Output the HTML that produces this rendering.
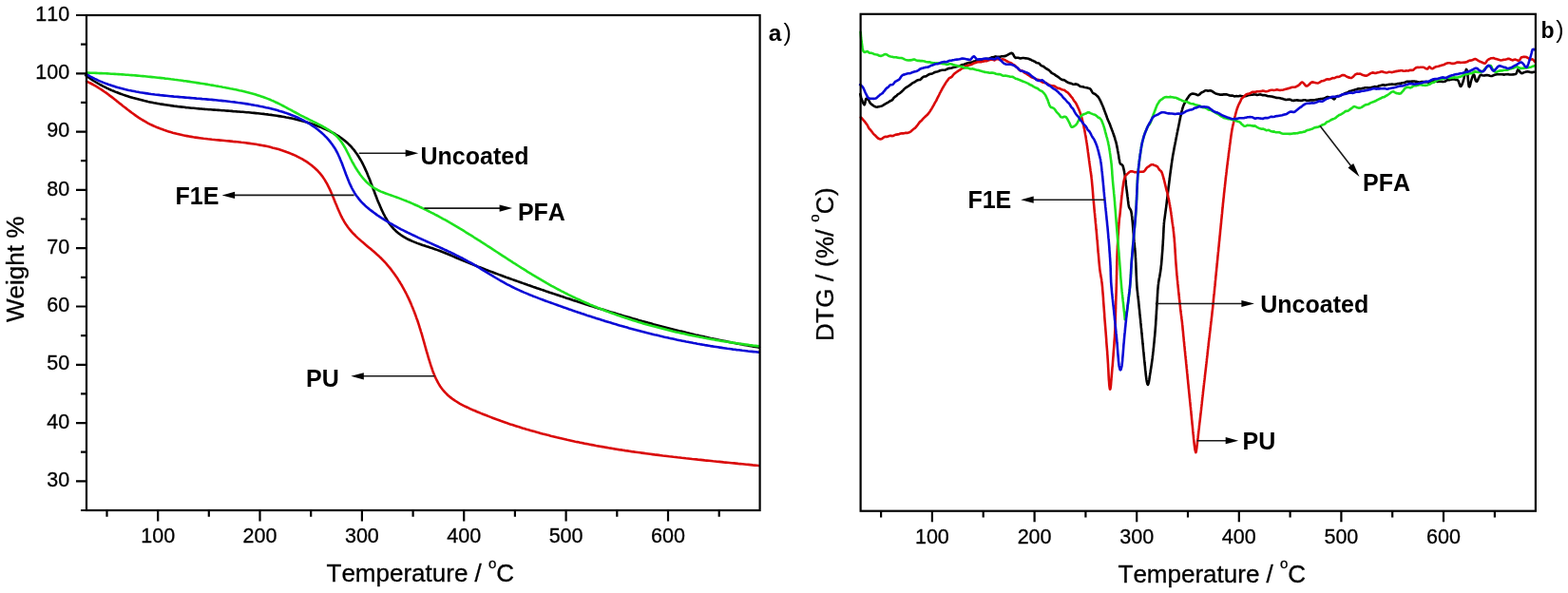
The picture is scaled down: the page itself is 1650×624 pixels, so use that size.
<!DOCTYPE html>
<html><head><meta charset="utf-8"><title>TGA and DTG curves</title>
<style>html,body{margin:0;padding:0;background:#fff;}body{width:1650px;height:624px;overflow:hidden;}svg{display:block;font-kerning:none;}</style>
</head><body>
<svg width="1650" height="624" viewBox="0 0 1650 624">
<rect width="1650" height="624" fill="#ffffff"/>
<g>
<path d="M90.2,79.3 L91.8,80.5 L93.5,81.7 L95.1,82.8 L96.7,83.9 L98.4,85.0 L100.1,86.0 L101.8,87.0 L103.5,88.0 L105.2,89.0 L107.0,89.9 L108.7,90.8 L110.5,91.7 L112.3,92.6 L114.0,93.4 L115.8,94.3 L117.7,95.1 L119.5,95.8 L121.3,96.6 L123.2,97.3 L125.0,98.0 L126.9,98.7 L128.8,99.4 L130.7,100.1 L132.6,100.7 L134.5,101.3 L136.4,101.9 L138.3,102.5 L140.2,103.1 L142.1,103.6 L144.1,104.1 L146.0,104.6 L148.0,105.1 L149.9,105.6 L151.9,106.1 L153.9,106.5 L155.8,107.0 L157.8,107.4 L159.8,107.8 L161.8,108.2 L163.8,108.5 L165.8,108.9 L167.8,109.3 L169.7,109.6 L171.7,109.9 L173.7,110.2 L175.7,110.5 L177.7,110.8 L179.7,111.1 L181.7,111.4 L183.7,111.7 L185.7,111.9 L187.7,112.2 L189.7,112.4 L191.7,112.6 L193.7,112.8 L195.7,113.1 L197.7,113.3 L199.7,113.5 L201.7,113.7 L203.7,113.8 L205.7,114.0 L207.7,114.2 L209.7,114.4 L211.7,114.5 L213.7,114.7 L215.6,114.9 L217.6,115.0 L219.6,115.2 L221.6,115.3 L223.6,115.5 L225.6,115.6 L227.6,115.8 L229.6,115.9 L231.6,116.0 L233.6,116.2 L235.6,116.3 L237.6,116.5 L239.6,116.6 L241.6,116.8 L243.6,116.9 L245.5,117.1 L247.5,117.2 L249.5,117.4 L251.5,117.5 L253.5,117.7 L255.5,117.8 L257.5,118.0 L259.5,118.2 L261.5,118.3 L263.5,118.5 L265.4,118.7 L267.4,118.9 L269.4,119.1 L271.4,119.3 L273.4,119.5 L275.4,119.7 L277.4,119.9 L279.4,120.2 L281.3,120.4 L283.3,120.7 L285.3,120.9 L287.3,121.2 L289.3,121.5 L291.3,121.8 L293.2,122.1 L295.2,122.4 L297.2,122.7 L299.1,123.1 L301.1,123.5 L303.1,123.8 L305.0,124.2 L307.0,124.6 L309.0,125.1 L310.9,125.5 L312.9,126.0 L314.8,126.5 L316.7,127.0 L318.7,127.5 L320.6,128.0 L322.5,128.6 L324.5,129.2 L326.4,129.8 L328.3,130.4 L330.2,131.1 L332.1,131.8 L334.0,132.5 L335.9,133.2 L337.8,133.9 L339.7,134.7 L341.5,135.5 L343.4,136.4 L345.3,137.2 L347.1,138.1 L348.9,139.1 L350.7,140.0 L352.5,141.0 L354.2,142.0 L355.9,143.1 L357.6,144.2 L359.2,145.3 L360.8,146.5 L362.4,147.7 L363.9,149.0 L365.4,150.3 L366.8,151.6 L368.2,153.0 L369.6,154.4 L370.8,155.9 L372.1,157.3 L373.3,158.9 L374.4,160.4 L375.6,162.0 L376.7,163.7 L377.7,165.3 L378.7,167.0 L379.7,168.7 L380.7,170.4 L381.6,172.2 L382.5,174.0 L383.4,175.8 L384.2,177.6 L385.0,179.4 L385.9,181.3 L386.7,183.2 L387.4,185.0 L388.2,186.9 L389.0,188.8 L389.7,190.7 L390.4,192.7 L391.2,194.6 L391.9,196.5 L392.6,198.4 L393.4,200.4 L394.1,202.3 L394.8,204.2 L395.5,206.1 L396.3,208.1 L397.0,210.0 L397.8,211.9 L398.6,213.7 L399.4,215.6 L400.2,217.5 L401.0,219.3 L401.8,221.2 L402.7,223.0 L403.6,224.8 L404.5,226.5 L405.4,228.3 L406.4,230.0 L407.4,231.7 L408.4,233.3 L409.5,234.9 L410.6,236.5 L411.8,238.0 L413.0,239.4 L414.3,240.8 L415.7,242.2 L417.0,243.5 L418.5,244.7 L420.0,245.9 L421.5,247.0 L423.1,248.1 L424.7,249.1 L426.4,250.1 L428.1,251.1 L429.9,252.0 L431.6,252.8 L433.4,253.6 L435.3,254.4 L437.1,255.1 L439.0,255.9 L440.9,256.6 L442.8,257.2 L444.8,257.9 L446.7,258.5 L448.7,259.2 L450.6,259.8 L452.6,260.5 L454.5,261.1 L456.5,261.8 L458.4,262.4 L460.3,263.1 L462.2,263.8 L464.1,264.5 L466.0,265.3 L467.9,266.0 L469.7,266.8 L471.6,267.5 L473.5,268.3 L475.3,269.1 L477.1,269.9 L479.0,270.7 L480.8,271.5 L482.7,272.3 L484.5,273.0 L486.4,273.8 L488.2,274.6 L490.1,275.3 L491.9,276.1 L493.8,276.8 L495.6,277.6 L497.5,278.3 L499.3,279.1 L501.2,279.8 L503.0,280.6 L504.9,281.3 L506.8,282.0 L508.6,282.7 L510.5,283.5 L512.4,284.2 L514.2,284.9 L516.1,285.6 L518.0,286.3 L519.8,287.0 L521.7,287.7 L523.6,288.4 L525.5,289.1 L527.3,289.8 L529.2,290.5 L531.1,291.2 L533.0,291.9 L534.8,292.5 L536.7,293.2 L538.6,293.9 L540.5,294.6 L542.4,295.2 L544.3,295.9 L546.1,296.6 L548.0,297.2 L549.9,297.9 L551.8,298.6 L553.7,299.2 L555.6,299.9 L557.5,300.5 L559.4,301.2 L561.3,301.9 L563.2,302.5 L565.0,303.2 L566.9,303.8 L568.8,304.4 L570.7,305.1 L572.6,305.7 L574.5,306.4 L576.4,307.0 L578.3,307.7 L580.2,308.3 L582.1,308.9 L584.0,309.6 L585.9,310.2 L587.8,310.8 L589.7,311.5 L591.6,312.1 L593.5,312.7 L595.4,313.4 L597.3,314.0 L599.2,314.6 L601.1,315.2 L603.0,315.9 L604.9,316.5 L606.8,317.1 L608.7,317.7 L610.6,318.3 L612.6,318.9 L614.5,319.5 L616.4,320.2 L618.3,320.8 L620.2,321.4 L622.1,322.0 L624.0,322.6 L625.9,323.2 L627.8,323.8 L629.7,324.4 L631.7,325.0 L633.6,325.5 L635.5,326.1 L637.4,326.7 L639.3,327.3 L641.2,327.9 L643.2,328.5 L645.1,329.0 L647.0,329.6 L648.9,330.2 L650.8,330.8 L652.8,331.3 L654.7,331.9 L656.6,332.5 L658.5,333.0 L660.4,333.6 L662.4,334.1 L664.3,334.7 L666.2,335.3 L668.1,335.8 L670.1,336.3 L672.0,336.9 L673.9,337.4 L675.9,338.0 L677.8,338.5 L679.7,339.0 L681.7,339.6 L683.6,340.1 L685.5,340.6 L687.5,341.2 L689.4,341.7 L691.3,342.2 L693.3,342.7 L695.2,343.2 L697.1,343.7 L699.1,344.2 L701.0,344.7 L702.9,345.2 L704.9,345.7 L706.8,346.2 L708.8,346.7 L710.7,347.2 L712.7,347.7 L714.6,348.2 L716.5,348.6 L718.5,349.1 L720.4,349.6 L722.4,350.1 L724.3,350.5 L726.3,351.0 L728.2,351.4 L730.2,351.9 L732.1,352.4 L734.1,352.8 L736.0,353.3 L738.0,353.7 L739.9,354.1 L741.9,354.6 L743.9,355.0 L745.8,355.4 L747.8,355.9 L749.7,356.3 L751.7,356.7 L753.6,357.1 L755.6,357.5 L757.6,357.9 L759.5,358.3 L761.5,358.7 L763.5,359.1 L765.4,359.5 L767.4,359.9 L769.4,360.3 L771.3,360.7 L773.3,361.0 L775.3,361.4 L777.2,361.8 L779.2,362.1 L781.2,362.5 L783.1,362.9 L785.1,363.2 L787.1,363.6 L789.1,363.9 L791.0,364.3 L793.0,364.6 L795.0,364.9 L797.0,365.3 L799.0,365.6" fill="none" stroke="#000000" stroke-width="2.60" stroke-linejoin="round" stroke-linecap="round"/>
<path d="M91.1,85.7 L93.1,86.6 L95.1,87.5 L97.0,88.5 L99.0,89.6 L100.9,90.7 L102.8,91.8 L104.6,93.0 L106.5,94.2 L108.3,95.4 L110.2,96.7 L112.0,97.9 L113.8,99.3 L115.5,100.6 L117.3,101.9 L119.1,103.3 L120.9,104.7 L122.6,106.1 L124.4,107.5 L126.1,108.9 L127.9,110.3 L129.6,111.7 L131.4,113.0 L133.2,114.4 L134.9,115.8 L136.7,117.1 L138.5,118.5 L140.3,119.8 L142.1,121.1 L143.9,122.4 L145.7,123.6 L147.6,124.8 L149.5,126.0 L151.4,127.1 L153.3,128.2 L155.2,129.3 L157.1,130.3 L159.1,131.3 L161.1,132.2 L163.1,133.1 L165.1,134.0 L167.2,134.8 L169.2,135.6 L171.3,136.3 L173.4,137.1 L175.4,137.8 L177.5,138.4 L179.7,139.1 L181.8,139.7 L183.9,140.2 L186.1,140.8 L188.2,141.3 L190.4,141.8 L192.5,142.3 L194.7,142.7 L196.9,143.1 L199.0,143.5 L201.2,143.9 L203.4,144.3 L205.6,144.6 L207.8,144.9 L210.0,145.2 L212.1,145.5 L214.3,145.8 L216.5,146.0 L218.7,146.3 L220.9,146.5 L223.1,146.8 L225.3,147.0 L227.5,147.2 L229.7,147.4 L231.9,147.6 L234.1,147.8 L236.3,148.0 L238.5,148.2 L240.7,148.4 L242.9,148.6 L245.1,148.9 L247.3,149.1 L249.5,149.3 L251.7,149.5 L253.9,149.8 L256.1,150.0 L258.3,150.3 L260.5,150.6 L262.7,150.9 L264.9,151.2 L267.1,151.5 L269.3,151.8 L271.5,152.2 L273.7,152.6 L275.8,153.0 L278.0,153.4 L280.2,153.8 L282.4,154.3 L284.5,154.8 L286.7,155.4 L288.9,155.9 L291.0,156.5 L293.2,157.1 L295.3,157.8 L297.5,158.5 L299.6,159.2 L301.7,160.0 L303.8,160.7 L305.9,161.6 L308.0,162.5 L310.1,163.4 L312.1,164.3 L314.1,165.3 L316.1,166.4 L318.1,167.4 L320.0,168.6 L321.8,169.7 L323.7,170.9 L325.5,172.2 L327.2,173.5 L329.0,174.9 L330.6,176.3 L332.2,177.7 L333.8,179.2 L335.3,180.8 L336.7,182.4 L338.1,184.1 L339.4,185.8 L340.6,187.6 L341.8,189.4 L342.9,191.3 L344.0,193.2 L345.0,195.1 L346.0,197.1 L347.0,199.1 L347.9,201.1 L348.8,203.2 L349.7,205.2 L350.5,207.3 L351.4,209.4 L352.2,211.4 L353.0,213.5 L353.9,215.6 L354.7,217.6 L355.6,219.7 L356.5,221.7 L357.4,223.7 L358.3,225.7 L359.2,227.7 L360.2,229.6 L361.3,231.5 L362.3,233.4 L363.5,235.3 L364.7,237.1 L365.9,238.8 L367.2,240.5 L368.6,242.2 L370.0,243.9 L371.5,245.5 L373.1,247.0 L374.6,248.6 L376.2,250.1 L377.9,251.6 L379.6,253.1 L381.3,254.6 L383.0,256.0 L384.7,257.5 L386.4,258.9 L388.2,260.4 L389.9,261.8 L391.6,263.3 L393.4,264.7 L395.1,266.2 L396.7,267.7 L398.4,269.2 L400.0,270.8 L401.6,272.3 L403.1,273.9 L404.7,275.5 L406.2,277.2 L407.6,278.8 L409.0,280.5 L410.4,282.2 L411.8,283.9 L413.1,285.7 L414.4,287.4 L415.7,289.2 L416.9,291.0 L418.2,292.8 L419.3,294.7 L420.5,296.5 L421.6,298.4 L422.8,300.3 L423.8,302.2 L424.9,304.1 L425.9,306.0 L427.0,308.0 L428.0,310.0 L428.9,311.9 L429.9,313.9 L430.8,315.9 L431.7,317.9 L432.6,319.9 L433.4,322.0 L434.3,324.0 L435.1,326.1 L435.9,328.1 L436.7,330.2 L437.5,332.3 L438.2,334.4 L439.0,336.4 L439.7,338.5 L440.4,340.6 L441.1,342.8 L441.7,344.9 L442.4,347.0 L443.0,349.1 L443.7,351.2 L444.3,353.3 L444.9,355.5 L445.5,357.6 L446.1,359.7 L446.7,361.9 L447.3,364.0 L447.9,366.2 L448.5,368.3 L449.1,370.5 L449.8,372.7 L450.4,374.8 L451.0,377.0 L451.7,379.2 L452.4,381.4 L453.1,383.6 L453.8,385.8 L454.6,388.0 L455.3,390.2 L456.2,392.4 L457.0,394.5 L457.9,396.6 L458.9,398.7 L459.9,400.7 L460.9,402.7 L462.1,404.7 L463.2,406.5 L464.5,408.3 L465.8,410.0 L467.2,411.7 L468.6,413.2 L470.1,414.7 L471.7,416.2 L473.3,417.6 L475.0,418.9 L476.7,420.2 L478.5,421.4 L480.3,422.5 L482.1,423.7 L484.0,424.8 L485.9,425.8 L487.8,426.8 L489.8,427.8 L491.8,428.7 L493.8,429.7 L495.8,430.6 L497.8,431.5 L499.9,432.3 L501.9,433.2 L503.9,434.0 L506.0,434.9 L508.0,435.7 L510.1,436.5 L512.2,437.3 L514.2,438.1 L516.3,438.9 L518.3,439.7 L520.4,440.5 L522.5,441.3 L524.6,442.0 L526.7,442.8 L528.7,443.5 L530.8,444.2 L532.9,444.9 L535.0,445.7 L537.1,446.4 L539.2,447.0 L541.3,447.7 L543.4,448.4 L545.5,449.1 L547.6,449.7 L549.7,450.4 L551.8,451.0 L554.0,451.7 L556.1,452.3 L558.2,452.9 L560.3,453.5 L562.4,454.1 L564.6,454.7 L566.7,455.3 L568.8,455.9 L571.0,456.5 L573.1,457.0 L575.3,457.6 L577.4,458.1 L579.5,458.7 L581.7,459.2 L583.8,459.7 L586.0,460.3 L588.1,460.8 L590.3,461.3 L592.5,461.8 L594.6,462.3 L596.8,462.8 L598.9,463.2 L601.1,463.7 L603.3,464.2 L605.4,464.7 L607.6,465.1 L609.8,465.6 L612.0,466.0 L614.1,466.4 L616.3,466.9 L618.5,467.3 L620.7,467.7 L622.8,468.1 L625.0,468.5 L627.2,469.0 L629.4,469.4 L631.6,469.7 L633.8,470.1 L636.0,470.5 L638.1,470.9 L640.3,471.3 L642.5,471.6 L644.7,472.0 L646.9,472.4 L649.1,472.7 L651.3,473.1 L653.5,473.4 L655.7,473.7 L657.9,474.1 L660.1,474.4 L662.3,474.7 L664.5,475.1 L666.7,475.4 L668.9,475.7 L671.1,476.0 L673.3,476.3 L675.5,476.6 L677.7,476.9 L679.9,477.2 L682.1,477.5 L684.3,477.8 L686.5,478.1 L688.7,478.4 L690.9,478.6 L693.1,478.9 L695.3,479.2 L697.5,479.5 L699.8,479.7 L702.0,480.0 L704.2,480.3 L706.4,480.5 L708.6,480.8 L710.8,481.0 L713.0,481.3 L715.2,481.5 L717.4,481.8 L719.6,482.0 L721.8,482.3 L724.0,482.5 L726.2,482.7 L728.4,483.0 L730.6,483.2 L732.8,483.4 L735.0,483.7 L737.2,483.9 L739.4,484.1 L741.6,484.4 L743.8,484.6 L746.0,484.8 L748.2,485.0 L750.4,485.3 L752.6,485.5 L754.8,485.7 L757.0,485.9 L759.2,486.1 L761.4,486.4 L763.6,486.6 L765.8,486.8 L768.0,487.0 L770.2,487.2 L772.4,487.4 L774.5,487.6 L776.7,487.9 L778.9,488.1 L781.1,488.3 L783.3,488.5 L785.5,488.7 L787.6,488.9 L789.8,489.1 L792.0,489.4 L794.2,489.6 L796.3,489.8 L798.5,490.0" fill="none" stroke="#da0a0a" stroke-width="2.60" stroke-linejoin="round" stroke-linecap="round"/>
<path d="M91.1,76.5 L93.1,76.6 L95.1,76.7 L97.1,76.7 L99.1,76.8 L101.1,76.9 L103.1,77.0 L105.0,77.1 L107.0,77.1 L109.0,77.2 L111.0,77.3 L113.0,77.4 L114.9,77.5 L116.9,77.7 L118.9,77.8 L120.9,77.9 L122.8,78.0 L124.8,78.1 L126.8,78.3 L128.8,78.4 L130.7,78.5 L132.7,78.7 L134.7,78.8 L136.6,79.0 L138.6,79.1 L140.6,79.3 L142.5,79.4 L144.5,79.6 L146.5,79.8 L148.4,80.0 L150.4,80.1 L152.3,80.3 L154.3,80.5 L156.3,80.7 L158.2,80.9 L160.2,81.1 L162.1,81.3 L164.1,81.5 L166.1,81.7 L168.0,81.9 L170.0,82.1 L171.9,82.3 L173.9,82.6 L175.9,82.8 L177.8,83.0 L179.8,83.3 L181.7,83.5 L183.7,83.8 L185.6,84.0 L187.6,84.3 L189.5,84.5 L191.5,84.8 L193.4,85.1 L195.4,85.3 L197.4,85.6 L199.3,85.9 L201.3,86.2 L203.2,86.5 L205.2,86.8 L207.1,87.1 L209.1,87.4 L211.0,87.7 L213.0,88.0 L214.9,88.3 L216.9,88.6 L218.8,88.9 L220.8,89.3 L222.7,89.6 L224.7,89.9 L226.6,90.3 L228.6,90.6 L230.6,91.0 L232.5,91.3 L234.5,91.7 L236.4,92.0 L238.4,92.4 L240.3,92.8 L242.3,93.2 L244.2,93.5 L246.2,93.9 L248.1,94.3 L250.1,94.7 L252.0,95.2 L253.9,95.6 L255.9,96.0 L257.8,96.5 L259.7,97.0 L261.7,97.5 L263.6,98.0 L265.5,98.5 L267.4,99.0 L269.2,99.6 L271.1,100.2 L273.0,100.8 L274.9,101.4 L276.7,102.0 L278.6,102.7 L280.4,103.4 L282.2,104.1 L284.0,104.8 L285.8,105.6 L287.6,106.3 L289.4,107.2 L291.1,108.0 L292.9,108.8 L294.6,109.7 L296.4,110.6 L298.1,111.5 L299.8,112.4 L301.6,113.3 L303.3,114.3 L305.0,115.2 L306.8,116.1 L308.5,117.1 L310.2,118.0 L312.0,119.0 L313.7,119.9 L315.5,120.9 L317.3,121.8 L319.1,122.7 L320.9,123.6 L322.7,124.5 L324.5,125.4 L326.3,126.3 L328.1,127.2 L329.9,128.1 L331.7,129.0 L333.6,129.9 L335.4,130.8 L337.1,131.7 L338.9,132.6 L340.6,133.6 L342.4,134.6 L344.0,135.6 L345.7,136.6 L347.3,137.7 L348.9,138.8 L350.4,140.0 L351.9,141.2 L353.3,142.4 L354.7,143.8 L356.0,145.1 L357.2,146.6 L358.3,148.1 L359.5,149.6 L360.5,151.2 L361.5,152.8 L362.5,154.5 L363.5,156.2 L364.4,157.9 L365.3,159.7 L366.2,161.4 L367.1,163.2 L368.0,165.0 L368.9,166.8 L369.8,168.5 L370.7,170.3 L371.7,172.0 L372.7,173.8 L373.6,175.5 L374.7,177.2 L375.7,178.8 L376.8,180.5 L377.9,182.1 L379.0,183.7 L380.2,185.2 L381.4,186.7 L382.6,188.2 L383.9,189.6 L385.2,191.0 L386.5,192.3 L387.9,193.6 L389.4,194.8 L390.9,195.9 L392.4,197.0 L394.0,198.1 L395.7,199.0 L397.4,199.9 L399.1,200.8 L400.9,201.6 L402.7,202.3 L404.5,203.0 L406.4,203.7 L408.3,204.4 L410.2,205.1 L412.1,205.7 L414.0,206.4 L415.9,207.1 L417.7,207.7 L419.6,208.4 L421.5,209.1 L423.4,209.9 L425.2,210.6 L427.1,211.3 L428.9,212.1 L430.8,212.8 L432.6,213.6 L434.4,214.4 L436.2,215.2 L438.0,216.0 L439.9,216.8 L441.7,217.7 L443.4,218.5 L445.2,219.4 L447.0,220.2 L448.8,221.1 L450.6,222.0 L452.3,222.9 L454.1,223.8 L455.9,224.7 L457.6,225.6 L459.4,226.5 L461.1,227.4 L462.8,228.4 L464.6,229.3 L466.3,230.3 L468.0,231.2 L469.8,232.2 L471.5,233.2 L473.2,234.2 L474.9,235.1 L476.6,236.1 L478.3,237.1 L480.0,238.1 L481.7,239.1 L483.4,240.2 L485.1,241.2 L486.8,242.2 L488.5,243.2 L490.1,244.3 L491.8,245.3 L493.5,246.4 L495.2,247.4 L496.9,248.4 L498.5,249.5 L500.2,250.6 L501.9,251.6 L503.5,252.7 L505.2,253.7 L506.9,254.8 L508.5,255.9 L510.2,256.9 L511.8,258.0 L513.5,259.1 L515.2,260.2 L516.8,261.2 L518.5,262.3 L520.1,263.4 L521.8,264.5 L523.4,265.5 L525.1,266.6 L526.7,267.7 L528.4,268.8 L530.1,269.9 L531.7,270.9 L533.4,272.0 L535.0,273.1 L536.7,274.1 L538.3,275.2 L540.0,276.3 L541.7,277.3 L543.3,278.4 L545.0,279.5 L546.6,280.5 L548.3,281.6 L550.0,282.6 L551.7,283.7 L553.3,284.7 L555.0,285.8 L556.7,286.8 L558.4,287.8 L560.0,288.9 L561.7,289.9 L563.4,290.9 L565.1,291.9 L566.8,292.9 L568.5,293.9 L570.2,294.9 L571.9,295.9 L573.6,296.9 L575.3,297.9 L577.0,298.8 L578.7,299.8 L580.4,300.8 L582.1,301.7 L583.9,302.7 L585.6,303.6 L587.3,304.5 L589.1,305.4 L590.8,306.3 L592.6,307.2 L594.3,308.1 L596.1,309.0 L597.8,309.9 L599.6,310.8 L601.4,311.6 L603.1,312.5 L604.9,313.3 L606.7,314.2 L608.5,315.0 L610.3,315.8 L612.1,316.6 L613.9,317.4 L615.7,318.2 L617.5,319.0 L619.3,319.8 L621.1,320.6 L622.9,321.3 L624.8,322.1 L626.6,322.8 L628.4,323.6 L630.2,324.3 L632.1,325.0 L633.9,325.8 L635.8,326.5 L637.6,327.2 L639.4,327.9 L641.3,328.6 L643.2,329.3 L645.0,329.9 L646.9,330.6 L648.7,331.3 L650.6,331.9 L652.5,332.6 L654.3,333.2 L656.2,333.8 L658.1,334.5 L660.0,335.1 L661.9,335.7 L663.7,336.3 L665.6,336.9 L667.5,337.5 L669.4,338.1 L671.3,338.7 L673.2,339.2 L675.1,339.8 L677.0,340.4 L678.9,340.9 L680.8,341.5 L682.7,342.0 L684.6,342.5 L686.5,343.1 L688.5,343.6 L690.4,344.1 L692.3,344.6 L694.2,345.1 L696.1,345.6 L698.0,346.1 L700.0,346.6 L701.9,347.1 L703.8,347.5 L705.7,348.0 L707.7,348.5 L709.6,348.9 L711.5,349.4 L713.5,349.8 L715.4,350.3 L717.3,350.7 L719.3,351.1 L721.2,351.5 L723.1,352.0 L725.1,352.4 L727.0,352.8 L729.0,353.2 L730.9,353.6 L732.8,354.0 L734.8,354.3 L736.7,354.7 L738.7,355.1 L740.6,355.5 L742.5,355.8 L744.5,356.2 L746.4,356.5 L748.4,356.9 L750.3,357.2 L752.3,357.6 L754.2,357.9 L756.1,358.2 L758.1,358.6 L760.0,358.9 L762.0,359.2 L763.9,359.5 L765.8,359.8 L767.8,360.1 L769.7,360.4 L771.7,360.7 L773.6,361.0 L775.5,361.3 L777.5,361.6 L779.4,361.8 L781.4,362.1 L783.3,362.4 L785.2,362.6 L787.2,362.9 L789.1,363.2 L791.0,363.4 L793.0,363.7 L794.9,363.9 L796.8,364.1 L798.8,364.4" fill="none" stroke="#1ee21e" stroke-width="2.60" stroke-linejoin="round" stroke-linecap="round"/>
<path d="M90.9,78.2 L92.7,79.2 L94.4,80.2 L96.2,81.1 L97.9,82.0 L99.7,82.9 L101.5,83.7 L103.3,84.6 L105.1,85.4 L107.0,86.1 L108.8,86.9 L110.6,87.6 L112.5,88.3 L114.4,89.0 L116.2,89.6 L118.1,90.2 L120.0,90.8 L121.9,91.4 L123.8,92.0 L125.7,92.5 L127.6,93.0 L129.6,93.5 L131.5,94.0 L133.4,94.4 L135.4,94.9 L137.3,95.3 L139.3,95.7 L141.3,96.1 L143.2,96.5 L145.2,96.8 L147.2,97.2 L149.2,97.5 L151.1,97.8 L153.1,98.1 L155.1,98.4 L157.1,98.7 L159.1,99.0 L161.1,99.2 L163.1,99.5 L165.1,99.7 L167.1,99.9 L169.1,100.2 L171.1,100.4 L173.1,100.6 L175.1,100.8 L177.1,101.0 L179.1,101.2 L181.1,101.4 L183.1,101.6 L185.1,101.7 L187.1,101.9 L189.0,102.1 L191.0,102.3 L193.0,102.4 L195.0,102.6 L197.0,102.8 L199.0,102.9 L201.0,103.1 L203.0,103.3 L204.9,103.4 L206.9,103.6 L208.9,103.7 L210.9,103.9 L212.9,104.1 L214.8,104.2 L216.8,104.4 L218.8,104.6 L220.8,104.8 L222.8,104.9 L224.7,105.1 L226.7,105.3 L228.7,105.5 L230.7,105.7 L232.6,105.9 L234.6,106.1 L236.6,106.3 L238.6,106.5 L240.5,106.7 L242.5,107.0 L244.5,107.2 L246.5,107.4 L248.4,107.7 L250.4,108.0 L252.4,108.2 L254.4,108.5 L256.3,108.8 L258.3,109.1 L260.3,109.4 L262.3,109.7 L264.2,110.1 L266.2,110.4 L268.2,110.8 L270.2,111.1 L272.1,111.5 L274.1,111.9 L276.1,112.3 L278.1,112.7 L280.0,113.2 L282.0,113.6 L284.0,114.1 L285.9,114.6 L287.9,115.1 L289.9,115.6 L291.8,116.1 L293.8,116.7 L295.7,117.2 L297.6,117.8 L299.6,118.5 L301.5,119.1 L303.4,119.8 L305.3,120.5 L307.1,121.2 L309.0,121.9 L310.9,122.7 L312.7,123.5 L314.5,124.3 L316.3,125.2 L318.1,126.1 L319.9,127.0 L321.6,128.0 L323.4,128.9 L325.1,130.0 L326.8,131.0 L328.4,132.1 L330.1,133.2 L331.7,134.3 L333.3,135.5 L334.9,136.7 L336.4,138.0 L337.9,139.2 L339.4,140.6 L340.8,141.9 L342.2,143.3 L343.6,144.7 L344.9,146.1 L346.2,147.6 L347.4,149.1 L348.6,150.7 L349.8,152.3 L350.9,153.9 L352.0,155.5 L353.0,157.2 L354.0,159.0 L354.9,160.7 L355.8,162.5 L356.6,164.3 L357.5,166.2 L358.2,168.0 L359.0,169.9 L359.8,171.8 L360.5,173.7 L361.2,175.6 L361.9,177.5 L362.6,179.4 L363.3,181.3 L364.0,183.2 L364.7,185.1 L365.5,187.0 L366.2,188.9 L367.0,190.7 L367.7,192.6 L368.6,194.4 L369.4,196.2 L370.3,198.0 L371.2,199.7 L372.2,201.4 L373.2,203.1 L374.2,204.7 L375.3,206.3 L376.5,207.8 L377.7,209.4 L378.9,210.8 L380.2,212.3 L381.5,213.7 L382.9,215.0 L384.3,216.4 L385.8,217.7 L387.3,218.9 L388.8,220.2 L390.3,221.4 L391.9,222.6 L393.4,223.8 L395.0,224.9 L396.6,226.1 L398.2,227.2 L399.9,228.3 L401.5,229.4 L403.2,230.4 L404.8,231.5 L406.5,232.5 L408.2,233.5 L409.9,234.5 L411.6,235.5 L413.4,236.5 L415.1,237.5 L416.8,238.4 L418.6,239.4 L420.4,240.3 L422.1,241.3 L423.9,242.2 L425.7,243.1 L427.5,244.0 L429.3,244.9 L431.1,245.7 L432.9,246.6 L434.8,247.5 L436.6,248.3 L438.4,249.2 L440.2,250.1 L442.1,250.9 L443.9,251.8 L445.8,252.6 L447.6,253.4 L449.4,254.3 L451.3,255.1 L453.1,255.9 L455.0,256.8 L456.8,257.6 L458.7,258.5 L460.5,259.3 L462.4,260.1 L464.2,261.0 L466.0,261.8 L467.9,262.7 L469.7,263.5 L471.5,264.4 L473.4,265.2 L475.2,266.1 L477.0,267.0 L478.8,267.9 L480.6,268.8 L482.4,269.7 L484.2,270.6 L486.0,271.5 L487.7,272.4 L489.5,273.3 L491.3,274.3 L493.0,275.3 L494.7,276.2 L496.5,277.2 L498.2,278.2 L499.9,279.2 L501.6,280.2 L503.3,281.2 L505.0,282.2 L506.7,283.3 L508.4,284.3 L510.1,285.3 L511.8,286.3 L513.5,287.4 L515.1,288.4 L516.8,289.4 L518.5,290.4 L520.2,291.5 L521.9,292.5 L523.6,293.5 L525.3,294.5 L527.0,295.5 L528.7,296.4 L530.5,297.4 L532.2,298.4 L533.9,299.3 L535.7,300.2 L537.5,301.1 L539.2,302.0 L541.0,302.9 L542.8,303.8 L544.6,304.6 L546.4,305.4 L548.3,306.3 L550.1,307.1 L551.9,307.9 L553.8,308.6 L555.6,309.4 L557.5,310.2 L559.4,310.9 L561.2,311.7 L563.1,312.4 L565.0,313.1 L566.9,313.9 L568.8,314.6 L570.6,315.3 L572.5,316.0 L574.4,316.7 L576.3,317.4 L578.2,318.1 L580.1,318.7 L582.0,319.4 L583.9,320.1 L585.8,320.8 L587.7,321.5 L589.5,322.1 L591.4,322.8 L593.3,323.5 L595.2,324.1 L597.1,324.8 L599.0,325.5 L600.9,326.1 L602.8,326.8 L604.7,327.4 L606.5,328.1 L608.4,328.7 L610.3,329.3 L612.2,330.0 L614.1,330.6 L616.0,331.2 L617.9,331.9 L619.8,332.5 L621.7,333.1 L623.6,333.7 L625.5,334.3 L627.4,334.9 L629.3,335.5 L631.2,336.1 L633.1,336.7 L635.0,337.3 L636.9,337.9 L638.8,338.5 L640.7,339.1 L642.6,339.6 L644.5,340.2 L646.4,340.8 L648.3,341.3 L650.2,341.9 L652.1,342.5 L654.0,343.0 L655.9,343.5 L657.8,344.1 L659.8,344.6 L661.7,345.2 L663.6,345.7 L665.5,346.2 L667.4,346.7 L669.4,347.3 L671.3,347.8 L673.2,348.3 L675.1,348.8 L677.1,349.3 L679.0,349.8 L680.9,350.3 L682.9,350.7 L684.8,351.2 L686.7,351.7 L688.7,352.2 L690.6,352.6 L692.6,353.1 L694.5,353.6 L696.5,354.0 L698.4,354.5 L700.4,354.9 L702.3,355.3 L704.3,355.8 L706.2,356.2 L708.2,356.6 L710.1,357.0 L712.1,357.5 L714.1,357.9 L716.0,358.3 L718.0,358.7 L720.0,359.1 L721.9,359.5 L723.9,359.8 L725.9,360.2 L727.8,360.6 L729.8,361.0 L731.8,361.3 L733.7,361.7 L735.7,362.0 L737.7,362.4 L739.7,362.7 L741.6,363.1 L743.6,363.4 L745.6,363.7 L747.5,364.1 L749.5,364.4 L751.5,364.7 L753.5,365.0 L755.5,365.3 L757.4,365.6 L759.4,365.9 L761.4,366.2 L763.4,366.5 L765.3,366.8 L767.3,367.0 L769.3,367.3 L771.3,367.6 L773.2,367.8 L775.2,368.1 L777.2,368.3 L779.2,368.5 L781.1,368.8 L783.1,369.0 L785.1,369.2 L787.1,369.5 L789.0,369.7 L791.0,369.9 L793.0,370.1 L795.0,370.3 L796.9,370.5 L798.9,370.6" fill="none" stroke="#0a0ad6" stroke-width="2.60" stroke-linejoin="round" stroke-linecap="round"/>
</g>
<g>
<path d="M905.2,99.0 L905.4,99.9 L905.8,101.3 L906.2,102.8 L906.7,104.3 L907.1,105.6 L907.7,107.1 L908.4,108.7 L909.0,109.7 L909.6,110.3 L910.0,109.4 L910.4,107.9 L910.7,106.2 L911.1,104.6 L911.5,103.7 L912.8,104.0 L914.1,105.3 L914.7,106.5 L915.3,107.7 L916.0,108.8 L916.9,109.6 L918.0,110.4 L919.2,111.3 L920.4,112.0 L921.7,112.5 L923.1,112.7 L924.3,112.3 L925.6,112.1 L926.9,111.8 L928.2,111.4 L929.5,110.7 L930.7,109.9 L932.0,109.2 L933.3,108.4 L934.3,107.9 L935.3,107.2 L936.3,106.5 L937.4,106.0 L938.5,105.5 L939.4,104.7 L940.2,103.4 L941.2,102.3 L942.1,101.7 L943.0,101.1 L944.0,100.2 L944.9,99.1 L946.0,98.6 L947.0,98.0 L948.1,97.1 L949.2,96.0 L950.2,95.1 L951.3,93.9 L952.4,92.9 L953.4,92.1 L954.5,91.5 L955.6,90.8 L956.6,90.2 L957.7,89.4 L958.8,88.6 L959.8,87.7 L960.8,87.2 L961.9,86.6 L963.0,86.0 L964.1,85.2 L965.1,84.6 L966.1,84.3 L967.1,84.0 L968.2,83.9 L969.3,83.0 L970.5,81.7 L971.8,80.7 L972.8,80.5 L973.9,80.4 L975.0,80.1 L976.2,79.1 L977.4,78.3 L978.6,77.9 L979.8,77.8 L981.0,77.4 L982.2,76.8 L983.3,76.2 L984.5,75.7 L985.7,75.5 L986.9,75.2 L988.0,74.8 L989.2,74.3 L990.3,74.0 L991.4,73.8 L992.6,73.8 L993.8,73.7 L995.1,73.4 L996.4,72.8 L997.7,72.1 L999.0,71.9 L1000.3,71.7 L1001.6,71.5 L1002.9,71.1 L1004.2,70.7 L1005.4,70.5 L1006.5,70.1 L1007.7,70.0 L1008.8,69.7 L1010.0,69.5 L1011.1,68.8 L1012.3,68.3 L1013.4,68.0 L1014.6,67.7 L1015.9,67.2 L1017.2,66.7 L1018.5,66.3 L1019.8,66.0 L1021.1,65.8 L1022.4,65.6 L1023.7,65.1 L1025.0,64.5 L1026.3,64.2 L1027.6,63.7 L1028.9,63.7 L1030.2,63.7 L1031.5,63.6 L1032.8,63.0 L1034.1,62.8 L1035.4,63.0 L1036.7,62.5 L1038.1,62.0 L1039.6,61.7 L1041.0,61.7 L1042.4,60.9 L1043.6,60.4 L1044.8,60.2 L1045.8,60.0 L1047.5,59.4 L1048.5,59.6 L1050.0,59.8 L1051.2,59.9 L1052.5,59.7 L1054.0,59.3 L1055.5,59.3 L1057.0,59.1 L1058.3,58.9 L1059.7,58.1 L1061.1,57.3 L1062.3,56.7 L1063.5,56.1 L1064.6,55.9 L1065.5,56.3 L1066.3,57.4 L1067.0,58.8 L1067.8,60.2 L1068.8,60.9 L1069.8,60.7 L1071.0,60.7 L1072.3,61.1 L1073.6,61.5 L1075.0,61.2 L1076.1,61.0 L1077.2,61.0 L1078.4,61.3 L1079.6,61.4 L1080.9,61.5 L1082.1,61.7 L1083.3,62.2 L1084.5,62.7 L1085.7,63.4 L1086.9,63.8 L1088.1,64.5 L1089.3,65.0 L1090.5,66.0 L1091.7,66.2 L1092.7,66.4 L1093.8,66.9 L1094.8,68.3 L1095.9,69.1 L1096.9,69.5 L1097.9,69.8 L1099.0,70.7 L1100.0,71.5 L1101.0,72.3 L1102.1,72.8 L1103.1,73.4 L1104.1,74.1 L1105.2,75.1 L1106.2,76.4 L1107.3,77.1 L1108.3,77.6 L1109.3,78.1 L1110.4,79.0 L1111.4,79.8 L1112.5,80.3 L1113.6,81.1 L1114.6,81.8 L1115.7,82.7 L1116.7,83.4 L1117.9,84.0 L1119.1,84.1 L1120.3,84.5 L1121.4,85.2 L1122.6,86.2 L1123.8,86.8 L1125.0,87.2 L1126.2,87.6 L1127.4,87.8 L1128.6,88.5 L1129.7,88.7 L1130.9,88.6 L1132.1,88.4 L1133.3,88.8 L1134.5,89.3 L1135.8,90.3 L1137.1,91.0 L1138.3,91.2 L1139.5,91.3 L1140.7,91.8 L1141.7,92.0 L1143.3,92.2 L1144.6,92.6 L1145.8,92.9 L1146.9,93.3 L1147.8,94.2 L1148.5,95.4 L1149.2,96.6 L1150.0,97.9 L1151.0,98.5 L1152.0,98.8 L1153.1,99.6 L1154.2,100.6 L1154.9,101.4 L1155.6,101.9 L1156.2,102.9 L1156.9,104.1 L1157.6,105.4 L1158.3,106.8 L1158.8,107.9 L1159.2,108.9 L1159.7,110.0 L1160.2,111.0 L1160.7,112.3 L1161.2,113.5 L1161.6,114.8 L1162.1,116.0 L1162.5,117.1 L1163.0,118.4 L1163.4,119.5 L1163.8,120.6 L1164.3,121.8 L1164.7,123.0 L1165.1,124.2 L1165.6,125.5 L1166.0,126.5 L1166.5,127.5 L1166.9,128.5 L1167.4,129.6 L1167.9,130.8 L1168.4,132.1 L1168.8,133.4 L1169.3,134.6 L1169.8,135.9 L1170.2,137.0 L1170.7,138.2 L1171.1,139.4 L1171.6,140.7 L1172.0,142.0 L1172.4,143.3 L1172.9,144.5 L1173.3,145.8 L1173.6,147.1 L1174.0,148.3 L1174.4,149.6 L1174.7,151.0 L1175.0,152.3 L1175.2,153.6 L1175.5,154.9 L1175.8,156.1 L1176.0,157.4 L1176.2,158.7 L1176.5,160.0 L1176.7,161.3 L1177.0,162.7 L1177.2,164.2 L1177.4,165.6 L1177.6,167.0 L1177.9,168.3 L1178.1,169.5 L1178.3,170.6 L1178.6,171.6 L1179.5,172.9 L1180.6,173.3 L1181.5,174.3 L1181.8,175.3 L1182.1,176.4 L1182.4,177.6 L1182.7,178.9 L1183.0,180.3 L1183.2,181.7 L1183.5,183.1 L1183.7,184.5 L1183.9,185.7 L1184.1,187.0 L1184.2,188.2 L1184.4,189.5 L1184.5,190.8 L1184.7,192.1 L1184.8,193.4 L1184.9,194.7 L1185.1,196.0 L1185.3,197.3 L1185.4,198.6 L1185.6,199.9 L1185.8,201.2 L1185.9,202.5 L1186.1,203.8 L1186.3,205.1 L1186.4,206.4 L1186.6,207.6 L1186.8,209.0 L1186.9,210.4 L1187.1,211.8 L1187.3,213.1 L1187.4,214.4 L1187.6,215.6 L1187.8,216.7 L1188.0,217.7 L1188.5,218.9 L1189.1,219.8 L1189.7,220.7 L1190.2,222.0 L1190.4,222.9 L1190.6,223.9 L1190.8,225.0 L1190.9,226.2 L1191.1,227.5 L1191.3,228.9 L1191.4,230.4 L1191.6,232.1 L1191.7,233.1 L1191.8,234.2 L1191.9,235.4 L1192.0,236.6 L1192.1,237.8 L1192.2,239.1 L1192.3,240.4 L1192.4,241.8 L1192.5,243.1 L1192.6,244.5 L1192.8,245.9 L1192.9,247.3 L1193.0,248.6 L1193.1,250.0 L1193.2,251.2 L1193.3,252.3 L1193.4,253.5 L1193.5,254.7 L1193.7,255.8 L1193.8,257.0 L1193.9,258.2 L1194.0,259.4 L1194.1,260.6 L1194.2,261.8 L1194.4,263.1 L1194.5,264.4 L1194.6,265.8 L1194.7,267.2 L1194.8,268.7 L1194.9,270.2 L1195.0,271.3 L1195.0,272.4 L1195.1,273.5 L1195.1,274.7 L1195.2,276.0 L1195.3,277.2 L1195.3,278.5 L1195.4,279.8 L1195.4,281.1 L1195.5,282.5 L1195.5,283.8 L1195.6,285.2 L1195.6,286.5 L1195.7,287.8 L1195.7,289.2 L1195.8,290.5 L1195.9,291.8 L1195.9,293.1 L1196.0,294.3 L1196.0,295.5 L1196.1,296.7 L1196.2,297.9 L1196.2,299.0 L1196.3,300.0 L1196.4,301.5 L1196.5,302.8 L1196.6,304.1 L1196.7,305.3 L1196.9,306.5 L1197.0,307.6 L1197.1,308.6 L1197.2,309.7 L1197.3,310.7 L1197.5,311.8 L1197.6,312.8 L1197.7,314.0 L1197.9,315.2 L1198.0,316.4 L1198.1,317.8 L1198.3,319.2 L1198.4,320.2 L1198.5,321.3 L1198.6,322.3 L1198.7,323.5 L1198.8,324.6 L1199.0,325.7 L1199.1,326.9 L1199.2,328.1 L1199.3,329.3 L1199.4,330.6 L1199.6,331.8 L1199.7,333.1 L1199.8,334.3 L1200.0,335.6 L1200.1,336.8 L1200.2,338.1 L1200.3,339.4 L1200.5,340.7 L1200.6,341.9 L1200.7,343.2 L1200.8,344.4 L1201.0,345.7 L1201.1,346.9 L1201.2,348.1 L1201.3,349.3 L1201.4,350.5 L1201.6,351.8 L1201.7,353.0 L1201.8,354.3 L1201.9,355.5 L1202.0,356.8 L1202.2,358.1 L1202.3,359.3 L1202.4,360.6 L1202.5,361.8 L1202.7,363.1 L1202.8,364.3 L1202.9,365.6 L1203.0,366.8 L1203.1,368.0 L1203.2,369.2 L1203.4,370.4 L1203.5,371.5 L1203.6,372.7 L1203.7,373.8 L1203.8,374.8 L1203.9,375.9 L1204.0,376.9 L1204.1,378.4 L1204.3,379.9 L1204.4,381.3 L1204.6,382.7 L1204.7,384.1 L1204.9,385.4 L1205.0,386.7 L1205.1,388.0 L1205.2,389.2 L1205.4,390.3 L1205.5,391.4 L1205.6,392.5 L1205.7,393.5 L1205.8,394.5 L1205.9,395.4 L1206.0,396.2 L1206.3,398.4 L1206.5,399.8 L1206.7,400.9 L1206.8,401.7 L1207.0,402.5 L1207.5,404.3 L1207.9,404.9 L1208.3,404.1 L1208.8,402.5 L1209.0,401.7 L1209.1,400.9 L1209.3,399.8 L1209.5,398.4 L1209.8,396.2 L1209.9,395.4 L1210.1,394.5 L1210.2,393.5 L1210.4,392.5 L1210.6,391.4 L1210.7,390.3 L1210.9,389.2 L1211.1,388.0 L1211.3,386.7 L1211.5,385.4 L1211.7,384.1 L1211.9,382.7 L1212.1,381.3 L1212.3,379.9 L1212.5,378.4 L1212.7,376.9 L1212.8,375.9 L1212.9,374.8 L1213.1,373.8 L1213.2,372.7 L1213.3,371.5 L1213.4,370.4 L1213.6,369.2 L1213.7,368.0 L1213.8,366.8 L1214.0,365.6 L1214.1,364.3 L1214.2,363.1 L1214.3,361.8 L1214.5,360.6 L1214.6,359.3 L1214.7,358.1 L1214.8,356.8 L1214.9,355.5 L1215.1,354.3 L1215.2,353.0 L1215.3,351.8 L1215.4,350.5 L1215.5,349.3 L1215.6,348.1 L1215.7,346.9 L1215.8,345.7 L1215.9,344.4 L1216.0,343.2 L1216.1,341.9 L1216.2,340.7 L1216.2,339.4 L1216.3,338.1 L1216.4,336.8 L1216.5,335.6 L1216.6,334.3 L1216.6,333.0 L1216.7,331.8 L1216.8,330.6 L1216.9,329.3 L1216.9,328.1 L1217.0,326.9 L1217.1,325.7 L1217.2,324.6 L1217.2,323.5 L1217.3,322.3 L1217.4,321.3 L1217.4,320.2 L1217.5,319.2 L1217.6,317.7 L1217.7,316.3 L1217.8,315.0 L1217.8,313.7 L1217.9,312.4 L1218.0,311.2 L1218.0,310.0 L1218.1,308.9 L1218.2,307.8 L1218.2,306.7 L1218.3,305.6 L1218.4,304.5 L1218.5,303.4 L1218.6,302.3 L1218.7,301.1 L1218.8,300.0 L1219.0,298.7 L1219.1,297.4 L1219.3,296.2 L1219.5,295.0 L1219.7,293.8 L1219.9,292.6 L1220.2,291.5 L1220.4,290.3 L1220.6,289.0 L1220.8,287.8 L1221.0,286.5 L1221.2,285.2 L1221.4,283.8 L1221.6,282.3 L1221.7,281.2 L1221.8,280.1 L1222.0,279.0 L1222.1,277.9 L1222.2,276.7 L1222.3,275.5 L1222.4,274.2 L1222.5,273.0 L1222.6,271.8 L1222.7,270.5 L1222.8,269.2 L1222.9,268.0 L1223.0,266.7 L1223.1,265.5 L1223.2,264.2 L1223.3,263.0 L1223.4,261.8 L1223.4,260.5 L1223.5,259.4 L1223.6,258.2 L1223.7,256.9 L1223.8,255.6 L1223.8,254.3 L1223.9,253.0 L1224.0,251.7 L1224.1,250.4 L1224.1,249.1 L1224.2,247.8 L1224.2,246.5 L1224.3,245.3 L1224.4,244.0 L1224.4,242.8 L1224.5,241.6 L1224.5,240.5 L1224.6,239.4 L1224.7,238.4 L1224.7,237.4 L1224.8,236.4 L1224.9,234.7 L1225.1,233.2 L1225.2,231.8 L1225.4,230.6 L1225.6,229.5 L1225.7,228.4 L1225.9,227.3 L1226.0,226.1 L1226.2,224.9 L1226.4,223.6 L1226.5,222.4 L1226.7,221.3 L1226.8,220.1 L1227.0,218.9 L1227.2,217.6 L1227.3,216.3 L1227.5,214.8 L1227.7,213.3 L1227.8,212.2 L1228.0,211.1 L1228.1,210.0 L1228.3,208.8 L1228.4,207.5 L1228.6,206.3 L1228.7,205.0 L1228.9,203.7 L1229.0,202.4 L1229.2,201.1 L1229.3,199.8 L1229.5,198.5 L1229.6,197.2 L1229.8,196.0 L1230.0,194.8 L1230.1,193.5 L1230.3,192.3 L1230.4,191.0 L1230.6,189.8 L1230.7,188.6 L1230.9,187.3 L1231.0,186.1 L1231.2,184.8 L1231.3,183.6 L1231.5,182.4 L1231.7,181.1 L1231.8,179.9 L1232.0,178.7 L1232.2,177.5 L1232.3,176.4 L1232.5,175.3 L1232.6,174.2 L1232.8,173.1 L1232.9,172.0 L1233.1,170.9 L1233.2,169.8 L1233.4,168.7 L1233.6,167.5 L1233.8,166.2 L1234.0,164.9 L1234.2,163.5 L1234.5,162.0 L1234.7,161.0 L1234.9,159.9 L1235.1,158.8 L1235.3,157.7 L1235.5,156.5 L1235.7,155.3 L1236.0,154.1 L1236.2,152.8 L1236.5,151.5 L1236.7,150.3 L1237.0,149.0 L1237.2,147.7 L1237.5,146.4 L1237.7,145.1 L1238.0,143.8 L1238.2,142.5 L1238.5,141.2 L1238.7,140.0 L1239.0,138.8 L1239.2,137.6 L1239.5,136.4 L1239.7,135.3 L1240.0,134.0 L1240.3,132.6 L1240.5,131.3 L1240.8,129.9 L1241.1,128.6 L1241.3,127.2 L1241.6,125.9 L1241.9,124.6 L1242.1,123.4 L1242.4,122.1 L1242.7,120.9 L1242.9,119.8 L1243.2,118.6 L1243.4,117.5 L1243.7,116.5 L1244.0,115.5 L1244.2,114.5 L1244.5,113.6 L1245.1,111.8 L1245.7,110.3 L1246.3,109.1 L1246.9,107.9 L1247.5,106.9 L1248.1,105.6 L1248.7,104.7 L1249.3,103.8 L1250.2,102.6 L1251.1,101.1 L1252.0,100.0 L1253.0,99.2 L1254.1,98.8 L1255.2,98.5 L1256.4,98.7 L1257.7,99.1 L1259.0,99.5 L1260.2,100.1 L1261.3,100.0 L1262.6,99.1 L1263.7,97.8 L1264.8,97.2 L1266.1,96.6 L1267.2,96.0 L1268.3,95.2 L1269.5,95.2 L1270.8,95.6 L1272.1,95.5 L1273.3,95.3 L1274.5,95.5 L1275.6,96.1 L1276.8,96.9 L1277.9,97.7 L1279.2,98.4 L1280.5,98.7 L1281.6,99.1 L1282.7,99.3 L1283.9,99.7 L1285.1,99.5 L1286.4,99.6 L1287.6,99.4 L1288.9,99.4 L1290.1,99.3 L1291.3,99.6 L1292.6,99.9 L1293.9,100.5 L1295.2,100.6 L1296.5,100.5 L1297.7,100.8 L1298.9,101.4 L1300.0,101.3 L1301.3,101.1 L1302.3,101.2 L1303.3,101.2 L1304.4,100.9 L1305.6,100.9 L1307.2,101.3 L1308.1,101.4 L1309.2,101.3 L1310.3,101.2 L1311.5,100.9 L1312.7,100.5 L1314.0,100.0 L1315.2,99.9 L1316.5,99.7 L1317.8,99.7 L1319.1,99.4 L1320.4,99.5 L1321.6,99.5 L1322.8,100.0 L1324.0,99.8 L1325.2,99.5 L1326.4,99.4 L1327.6,99.8 L1328.8,100.2 L1330.0,100.1 L1331.2,100.2 L1332.4,100.5 L1333.6,101.0 L1334.8,101.3 L1336.0,101.2 L1337.2,101.5 L1338.4,101.5 L1339.6,102.0 L1340.8,102.1 L1342.0,102.6 L1343.2,102.9 L1344.5,103.0 L1345.7,103.0 L1346.9,103.2 L1348.1,103.6 L1349.3,103.7 L1350.5,104.2 L1351.7,104.6 L1352.9,105.0 L1354.1,104.9 L1355.3,104.7 L1356.5,104.6 L1357.7,104.7 L1358.9,105.4 L1360.1,105.7 L1361.3,105.9 L1362.5,105.6 L1363.7,105.5 L1364.9,105.4 L1366.2,105.6 L1367.6,105.8 L1368.9,105.9 L1370.3,105.7 L1371.7,105.3 L1373.0,105.3 L1374.4,105.6 L1375.7,105.8 L1376.9,105.8 L1378.2,105.5 L1379.3,105.4 L1380.8,105.4 L1382.2,105.4 L1383.5,105.2 L1384.7,104.9 L1385.9,104.9 L1387.1,104.6 L1388.2,104.4 L1389.4,104.1 L1390.7,104.0 L1392.1,103.9 L1393.4,103.5 L1394.7,103.1 L1395.9,102.2 L1397.0,101.9 L1398.1,102.2 L1399.5,102.6 L1400.7,102.7 L1401.9,103.0 L1402.9,103.9 L1403.8,104.4 L1404.8,103.7 L1405.4,102.3 L1406.7,101.3 L1407.6,101.1 L1408.7,101.1 L1409.9,100.8 L1411.2,100.3 L1412.5,99.6 L1414.0,98.9 L1415.4,98.2 L1416.4,97.7 L1417.6,97.4 L1418.7,96.9 L1419.9,96.2 L1421.2,95.7 L1422.4,95.5 L1423.6,95.1 L1424.7,94.8 L1425.9,94.4 L1426.9,94.3 L1428.3,93.6 L1429.6,93.4 L1430.8,93.4 L1432.0,93.5 L1433.1,93.1 L1434.3,92.9 L1435.5,92.6 L1436.8,92.3 L1438.0,92.3 L1439.3,92.4 L1440.6,92.5 L1441.8,92.3 L1443.0,92.1 L1444.2,91.7 L1445.5,91.4 L1446.7,91.1 L1447.9,91.2 L1449.1,91.2 L1450.2,90.8 L1451.4,90.3 L1452.5,90.1 L1453.6,89.7 L1454.7,89.4 L1455.9,89.3 L1457.1,89.7 L1458.6,89.4 L1459.7,89.2 L1460.9,89.0 L1462.1,88.9 L1463.4,88.8 L1464.8,88.6 L1466.2,88.8 L1467.5,88.8 L1468.9,88.6 L1470.3,88.1 L1471.5,88.0 L1472.8,87.8 L1474.1,87.8 L1475.5,87.2 L1476.8,87.0 L1478.1,86.7 L1479.4,86.3 L1480.7,85.8 L1481.9,85.7 L1483.1,85.8 L1484.5,85.7 L1485.9,85.6 L1487.2,85.5 L1488.4,85.5 L1489.7,85.7 L1490.9,85.9 L1492.1,86.4 L1493.3,86.5 L1494.6,86.5 L1496.0,86.1 L1497.2,86.1 L1498.5,86.1 L1499.8,86.1 L1501.0,86.1 L1502.3,86.4 L1503.6,86.6 L1504.9,86.3 L1506.2,85.9 L1507.5,85.6 L1508.8,85.4 L1510.1,85.3 L1511.3,85.6 L1512.7,86.0 L1514.0,85.8 L1515.2,85.8 L1516.5,85.7 L1517.7,85.9 L1519.0,86.0 L1520.3,85.8 L1521.7,85.0 L1523.0,84.2 L1524.3,84.0 L1525.6,84.1 L1526.7,83.8 L1528.2,83.4 L1529.6,83.2 L1530.8,83.6 L1531.8,83.9 L1533.3,84.0 L1534.4,84.8 L1534.9,85.9 L1535.4,87.4 L1535.9,88.9 L1536.4,90.3 L1536.9,90.9 L1537.5,90.7 L1538.1,89.6 L1538.8,88.1 L1539.5,86.1 L1539.8,85.2 L1540.1,84.0 L1540.5,82.5 L1540.8,80.8 L1541.2,79.2 L1541.6,77.6 L1542.0,76.1 L1542.3,74.8 L1542.7,73.6 L1543.0,72.9 L1543.3,73.3 L1543.5,73.6 L1543.7,74.4 L1543.9,75.3 L1544.1,76.6 L1544.3,78.0 L1544.4,79.5 L1544.6,81.1 L1544.8,82.8 L1544.9,84.5 L1545.1,86.1 L1545.2,87.5 L1545.4,88.9 L1545.6,89.9 L1545.7,90.8 L1545.9,91.2 L1546.3,91.4 L1546.8,90.5 L1547.2,88.9 L1547.6,86.9 L1548.1,85.0 L1548.5,83.6 L1549.1,81.8 L1549.8,80.0 L1550.4,78.8 L1551.0,78.5 L1551.4,79.1 L1551.8,80.6 L1552.2,82.4 L1552.6,84.2 L1553.1,85.3 L1553.6,85.6 L1554.1,85.7 L1554.7,84.9 L1555.3,83.6 L1556.0,82.2 L1556.7,80.7 L1557.4,79.3 L1558.6,78.7 L1559.8,79.2 L1561.2,79.5 L1562.6,79.4 L1563.8,79.1 L1565.1,79.1 L1566.4,79.2 L1567.7,79.7 L1569.0,80.0 L1570.3,79.9 L1571.6,79.3 L1572.8,78.8 L1574.1,78.5 L1575.4,78.2 L1576.7,78.3 L1578.0,78.3 L1579.2,78.3 L1580.5,78.2 L1581.8,78.4 L1583.1,78.6 L1584.4,78.3 L1585.6,78.3 L1586.9,78.1 L1588.2,78.5 L1589.5,78.5 L1590.9,78.5 L1592.3,78.4 L1593.6,78.3 L1594.6,78.1 L1595.5,77.5 L1596.1,76.2 L1596.6,74.7 L1597.2,73.4 L1598.3,73.9 L1599.5,75.7 L1601.0,77.1 L1602.1,77.0 L1603.3,76.4 L1604.6,75.9 L1606.0,75.5 L1607.4,75.3 L1608.7,75.5 L1610.2,76.0 L1611.6,76.1 L1613.1,76.1 L1614.2,75.8 L1615.1,75.7" fill="none" stroke="#000000" stroke-width="2.60" stroke-linejoin="round" stroke-linecap="round"/>
<path d="M905.8,123.5 L906.4,123.8 L907.2,124.9 L908.1,125.9 L909.2,127.1 L910.3,128.4 L910.9,129.4 L911.6,130.2 L912.3,131.1 L913.1,132.4 L913.8,134.0 L914.6,135.3 L915.3,136.0 L916.0,136.7 L916.7,137.6 L917.6,138.8 L918.5,140.0 L919.4,141.1 L920.2,141.9 L921.0,142.5 L921.8,143.3 L922.9,144.5 L924.0,145.5 L925.1,146.1 L926.3,146.4 L927.4,146.3 L928.5,145.6 L929.7,144.7 L930.9,144.1 L932.1,143.8 L933.3,144.0 L934.6,143.5 L935.9,143.1 L937.2,142.7 L938.5,143.1 L939.8,143.0 L941.0,142.4 L942.2,141.8 L943.5,141.6 L944.9,141.4 L946.2,141.2 L947.5,140.5 L948.9,140.4 L950.3,140.4 L951.5,140.3 L952.6,139.9 L954.1,139.7 L955.1,139.9 L956.4,139.4 L957.3,139.1 L958.3,138.5 L959.4,137.5 L960.6,136.4 L961.7,135.5 L962.8,134.8 L963.7,133.8 L964.7,132.7 L965.6,131.5 L966.5,130.2 L967.5,128.9 L968.3,127.9 L969.2,127.3 L970.1,126.5 L971.0,125.3 L971.9,124.4 L972.7,123.6 L973.6,122.8 L974.4,122.0 L975.3,121.3 L976.1,120.5 L977.0,119.4 L977.8,118.3 L978.7,117.2 L979.5,115.7 L980.1,114.9 L980.8,113.7 L981.4,112.6 L982.1,111.4 L982.7,110.4 L983.3,109.1 L984.0,107.9 L984.6,106.9 L985.2,106.0 L985.7,104.9 L986.3,103.5 L986.9,102.3 L987.4,101.3 L988.0,100.3 L988.6,99.0 L989.1,97.8 L989.7,96.8 L990.3,95.6 L991.0,94.5 L991.6,93.2 L992.3,92.0 L993.0,90.8 L993.6,89.9 L994.3,88.8 L994.9,87.6 L995.7,86.4 L996.5,85.3 L997.3,84.4 L998.1,83.2 L999.0,82.2 L1000.0,81.7 L1000.9,81.3 L1001.8,80.6 L1002.8,79.2 L1003.8,78.0 L1004.9,77.1 L1006.0,76.3 L1007.1,75.5 L1008.3,74.6 L1009.3,74.0 L1010.3,73.5 L1011.3,72.7 L1012.3,72.0 L1013.4,71.8 L1014.5,71.2 L1015.5,70.3 L1016.6,69.4 L1017.7,69.1 L1018.8,68.8 L1019.9,68.4 L1021.0,68.3 L1022.2,68.0 L1023.3,67.3 L1024.4,66.8 L1025.6,66.2 L1026.7,65.9 L1027.9,65.5 L1029.2,65.3 L1030.4,65.1 L1031.6,65.0 L1032.9,65.1 L1034.3,64.6 L1035.6,64.4 L1036.9,64.3 L1038.2,64.3 L1039.4,63.7 L1040.6,63.3 L1041.7,63.0 L1043.1,62.5 L1044.3,62.7 L1045.4,63.1 L1046.5,63.4 L1047.6,62.6 L1048.7,62.3 L1050.0,62.2 L1051.2,62.5 L1052.5,62.5 L1053.7,62.5 L1055.1,62.3 L1056.4,62.7 L1057.8,63.3 L1059.1,64.3 L1060.4,64.8 L1061.4,65.4 L1062.5,65.8 L1063.5,66.2 L1064.6,66.7 L1065.6,67.5 L1066.6,68.2 L1067.7,68.7 L1068.7,69.7 L1069.8,70.8 L1070.8,71.5 L1071.8,72.8 L1072.9,73.8 L1073.9,74.6 L1075.0,74.4 L1076.0,74.8 L1077.1,75.6 L1078.1,76.6 L1079.2,77.1 L1080.2,77.7 L1081.2,78.4 L1082.4,79.1 L1083.6,79.8 L1084.7,80.8 L1085.9,81.5 L1087.1,81.8 L1088.2,82.2 L1089.4,82.8 L1090.5,83.6 L1091.7,83.8 L1092.9,84.0 L1094.0,84.6 L1095.2,85.5 L1096.3,86.2 L1097.5,86.8 L1098.6,87.0 L1099.8,87.1 L1100.9,87.3 L1102.1,88.2 L1103.3,89.0 L1104.5,89.6 L1105.6,89.9 L1106.8,90.3 L1108.0,90.4 L1109.2,90.5 L1110.3,91.0 L1111.4,91.8 L1112.5,92.5 L1113.8,92.9 L1115.1,93.1 L1116.3,93.7 L1117.5,94.2 L1118.6,94.5 L1119.7,94.7 L1120.8,95.4 L1121.8,96.2 L1122.7,96.9 L1123.6,97.4 L1124.5,98.4 L1125.4,99.4 L1126.2,100.4 L1127.1,101.6 L1127.8,102.4 L1128.5,103.2 L1129.2,104.4 L1130.0,105.7 L1130.7,106.6 L1131.4,107.4 L1132.1,108.4 L1132.7,109.6 L1133.3,110.8 L1133.9,112.1 L1134.4,113.2 L1134.9,114.3 L1135.4,115.4 L1135.8,116.5 L1136.3,117.6 L1136.7,118.8 L1137.1,120.0 L1137.5,121.2 L1137.9,122.4 L1138.2,123.6 L1138.5,124.7 L1138.8,125.9 L1139.1,127.1 L1139.4,128.4 L1139.7,129.7 L1140.0,131.0 L1140.3,132.3 L1140.6,133.8 L1140.8,134.9 L1141.1,136.0 L1141.3,137.1 L1141.5,138.2 L1141.7,139.4 L1141.9,140.6 L1142.1,141.8 L1142.4,143.0 L1142.6,144.3 L1142.8,145.6 L1143.0,147.0 L1143.3,148.5 L1143.5,150.0 L1143.7,151.0 L1143.8,152.1 L1144.0,153.3 L1144.2,154.4 L1144.3,155.6 L1144.5,156.9 L1144.7,158.1 L1144.8,159.4 L1145.0,160.7 L1145.2,162.0 L1145.4,163.3 L1145.5,164.6 L1145.7,165.9 L1145.9,167.1 L1146.0,168.4 L1146.2,169.6 L1146.4,170.8 L1146.5,171.9 L1146.7,173.0 L1146.8,174.0 L1147.0,175.5 L1147.2,176.9 L1147.4,178.2 L1147.5,179.4 L1147.7,180.5 L1147.9,181.7 L1148.0,182.8 L1148.2,183.9 L1148.3,185.0 L1148.5,186.2 L1148.6,187.4 L1148.8,188.7 L1148.9,190.0 L1149.0,191.1 L1149.1,192.2 L1149.2,193.3 L1149.3,194.4 L1149.4,195.4 L1149.5,196.5 L1149.6,197.6 L1149.7,198.8 L1149.8,200.0 L1149.9,201.2 L1150.0,202.5 L1150.1,203.9 L1150.2,205.3 L1150.3,206.8 L1150.4,208.4 L1150.6,210.1 L1150.7,211.1 L1150.8,212.0 L1150.9,213.1 L1151.0,214.1 L1151.1,215.2 L1151.2,216.3 L1151.3,217.4 L1151.4,218.6 L1151.5,219.8 L1151.6,220.9 L1151.7,222.2 L1151.8,223.4 L1152.0,224.6 L1152.1,225.9 L1152.2,227.2 L1152.3,228.4 L1152.5,229.7 L1152.6,231.0 L1152.7,232.3 L1152.8,233.6 L1152.9,234.9 L1153.1,236.2 L1153.2,237.4 L1153.3,238.7 L1153.4,240.0 L1153.5,241.3 L1153.7,242.5 L1153.8,243.8 L1153.9,245.0 L1154.0,246.2 L1154.1,247.4 L1154.2,248.6 L1154.3,249.9 L1154.4,251.2 L1154.6,252.4 L1154.7,253.7 L1154.8,255.0 L1154.9,256.3 L1155.0,257.6 L1155.1,258.9 L1155.2,260.2 L1155.3,261.5 L1155.4,262.8 L1155.5,264.1 L1155.6,265.4 L1155.8,266.7 L1155.9,267.9 L1156.0,269.2 L1156.1,270.4 L1156.2,271.6 L1156.3,272.8 L1156.4,274.0 L1156.5,275.1 L1156.6,276.3 L1156.7,277.3 L1156.8,278.4 L1156.9,279.4 L1157.0,280.4 L1157.1,281.4 L1157.2,282.3 L1157.4,284.1 L1157.6,285.6 L1157.8,286.9 L1158.0,288.1 L1158.2,289.1 L1158.3,290.1 L1158.5,291.0 L1158.7,291.9 L1158.9,292.9 L1159.1,294.0 L1159.2,295.2 L1159.4,296.5 L1159.6,298.1 L1159.8,300.0 L1159.9,300.9 L1160.0,301.8 L1160.1,302.8 L1160.1,303.8 L1160.2,304.9 L1160.3,305.9 L1160.4,307.0 L1160.5,308.2 L1160.6,309.3 L1160.7,310.5 L1160.8,311.7 L1160.9,312.9 L1161.0,314.2 L1161.0,315.4 L1161.1,316.7 L1161.2,318.0 L1161.3,319.2 L1161.4,320.5 L1161.5,321.8 L1161.6,323.2 L1161.7,324.5 L1161.8,325.8 L1161.9,327.1 L1162.0,328.4 L1162.1,329.7 L1162.2,331.0 L1162.2,332.3 L1162.3,333.6 L1162.4,334.8 L1162.5,336.1 L1162.6,337.3 L1162.7,338.5 L1162.8,339.7 L1162.9,340.9 L1163.0,342.2 L1163.1,343.4 L1163.2,344.7 L1163.3,345.9 L1163.4,347.2 L1163.5,348.5 L1163.6,349.7 L1163.7,351.0 L1163.8,352.3 L1163.9,353.6 L1164.0,354.9 L1164.1,356.1 L1164.2,357.4 L1164.2,358.7 L1164.3,359.9 L1164.4,361.2 L1164.5,362.4 L1164.6,363.6 L1164.7,364.8 L1164.8,366.0 L1164.9,367.2 L1165.0,368.4 L1165.1,369.5 L1165.2,370.6 L1165.2,371.8 L1165.3,372.8 L1165.4,373.9 L1165.5,374.9 L1165.5,375.9 L1165.6,376.9 L1165.7,378.5 L1165.8,380.1 L1165.9,381.6 L1166.0,383.0 L1166.1,384.5 L1166.1,385.9 L1166.2,387.2 L1166.3,388.5 L1166.4,389.8 L1166.4,391.0 L1166.5,392.2 L1166.5,393.3 L1166.6,394.4 L1166.6,395.4 L1166.7,396.4 L1166.7,397.4 L1166.8,398.3 L1166.8,399.2 L1166.9,400.0 L1167.1,402.2 L1167.2,403.9 L1167.3,405.1 L1167.4,406.0 L1167.5,406.7 L1167.6,407.5 L1167.9,409.2 L1168.1,409.6 L1168.4,409.2 L1168.7,407.5 L1168.8,406.7 L1168.9,406.0 L1169.0,405.1 L1169.1,403.9 L1169.2,402.2 L1169.4,400.0 L1169.5,399.2 L1169.5,398.3 L1169.6,397.3 L1169.7,396.3 L1169.8,395.2 L1169.9,394.1 L1170.0,392.9 L1170.1,391.7 L1170.2,390.4 L1170.3,389.1 L1170.4,387.8 L1170.5,386.5 L1170.7,385.1 L1170.8,383.8 L1170.9,382.4 L1171.0,381.0 L1171.1,379.6 L1171.2,378.3 L1171.3,376.9 L1171.4,375.8 L1171.5,374.7 L1171.6,373.6 L1171.6,372.4 L1171.7,371.3 L1171.8,370.1 L1171.9,368.9 L1172.0,367.7 L1172.1,366.5 L1172.2,365.3 L1172.3,364.1 L1172.4,362.9 L1172.5,361.6 L1172.5,360.4 L1172.6,359.2 L1172.7,357.9 L1172.8,356.7 L1172.9,355.4 L1173.0,354.2 L1173.0,353.0 L1173.1,351.7 L1173.2,350.5 L1173.2,349.3 L1173.3,348.1 L1173.4,346.9 L1173.4,345.7 L1173.5,344.4 L1173.5,343.2 L1173.6,341.9 L1173.6,340.7 L1173.7,339.4 L1173.7,338.1 L1173.7,336.8 L1173.8,335.6 L1173.8,334.3 L1173.8,333.0 L1173.9,331.8 L1173.9,330.6 L1173.9,329.3 L1174.0,328.1 L1174.0,326.9 L1174.0,325.7 L1174.1,324.6 L1174.1,323.5 L1174.1,322.3 L1174.1,321.3 L1174.2,320.2 L1174.2,319.2 L1174.2,317.8 L1174.3,316.4 L1174.3,315.2 L1174.4,314.1 L1174.4,313.0 L1174.4,312.0 L1174.5,311.0 L1174.5,310.0 L1174.5,309.0 L1174.6,307.9 L1174.6,306.8 L1174.6,305.7 L1174.7,304.4 L1174.7,303.1 L1174.8,301.6 L1174.8,300.0 L1174.8,299.0 L1174.9,298.0 L1174.9,297.0 L1174.9,295.9 L1174.9,294.8 L1175.0,293.7 L1175.0,292.5 L1175.0,291.3 L1175.0,290.1 L1175.1,288.9 L1175.1,287.7 L1175.1,286.4 L1175.1,285.1 L1175.2,283.8 L1175.2,282.5 L1175.2,281.2 L1175.2,279.9 L1175.3,278.6 L1175.3,277.3 L1175.3,276.0 L1175.4,274.7 L1175.4,273.5 L1175.5,272.2 L1175.5,270.9 L1175.5,269.7 L1175.6,268.5 L1175.6,267.3 L1175.7,266.1 L1175.7,265.0 L1175.8,263.7 L1175.8,262.4 L1175.9,261.0 L1175.9,259.7 L1176.0,258.4 L1176.1,257.0 L1176.2,255.7 L1176.2,254.3 L1176.3,253.0 L1176.4,251.7 L1176.5,250.4 L1176.5,249.1 L1176.6,247.8 L1176.7,246.6 L1176.8,245.3 L1176.9,244.1 L1176.9,243.0 L1177.0,241.8 L1177.1,240.7 L1177.2,239.6 L1177.2,238.6 L1177.3,237.6 L1177.4,236.7 L1177.4,235.8 L1177.5,235.0 L1177.7,232.9 L1177.8,231.3 L1177.9,230.3 L1178.0,229.4 L1178.1,228.7 L1178.3,227.8 L1178.4,226.6 L1178.6,224.9 L1178.7,224.0 L1178.8,223.0 L1178.9,221.9 L1179.0,220.7 L1179.1,219.5 L1179.3,218.3 L1179.4,217.0 L1179.5,215.7 L1179.6,214.3 L1179.8,213.0 L1179.9,211.6 L1180.0,210.3 L1180.2,209.0 L1180.3,207.8 L1180.4,206.5 L1180.5,205.4 L1180.7,204.2 L1180.8,203.2 L1181.0,201.7 L1181.2,200.3 L1181.3,198.9 L1181.5,197.5 L1181.7,196.2 L1181.9,195.0 L1182.0,193.8 L1182.2,192.7 L1182.4,191.6 L1182.6,190.6 L1182.8,189.7 L1183.0,188.8 L1183.5,187.1 L1184.0,185.7 L1184.6,184.7 L1185.2,184.0 L1185.9,183.4 L1187.0,182.3 L1188.3,181.2 L1189.7,180.4 L1190.9,180.3 L1192.4,180.6 L1193.7,181.1 L1195.2,181.3 L1196.5,181.1 L1197.8,181.1 L1199.1,180.9 L1200.3,180.8 L1201.6,180.8 L1202.8,180.7 L1203.9,180.2 L1204.8,179.4 L1205.7,178.1 L1206.6,176.8 L1207.5,175.9 L1208.5,175.4 L1209.6,174.6 L1210.7,173.7 L1211.8,173.3 L1213.3,173.3 L1214.7,173.9 L1216.1,174.3 L1217.1,174.9 L1218.0,175.4 L1218.9,176.9 L1219.7,178.1 L1220.7,179.3 L1221.7,180.0 L1222.6,181.5 L1223.0,182.6 L1223.4,183.7 L1223.7,184.9 L1224.1,186.2 L1224.4,187.5 L1224.8,188.8 L1225.1,190.0 L1225.4,191.2 L1225.7,192.4 L1226.0,193.7 L1226.3,195.0 L1226.6,196.2 L1226.9,197.5 L1227.2,198.7 L1227.5,199.9 L1227.8,201.0 L1228.2,202.2 L1228.5,203.4 L1228.8,204.7 L1229.1,206.1 L1229.3,207.2 L1229.6,208.4 L1229.8,209.6 L1230.1,210.9 L1230.3,212.2 L1230.6,213.5 L1230.8,214.9 L1231.1,216.3 L1231.3,217.7 L1231.5,218.8 L1231.7,219.9 L1231.8,221.0 L1232.0,222.2 L1232.2,223.3 L1232.4,224.5 L1232.5,225.7 L1232.7,226.9 L1232.9,228.2 L1233.0,229.5 L1233.2,230.8 L1233.4,232.1 L1233.5,233.2 L1233.7,234.2 L1233.8,235.2 L1234.0,236.2 L1234.1,237.2 L1234.3,238.2 L1234.4,239.3 L1234.6,240.4 L1234.7,241.5 L1234.8,242.7 L1235.0,244.0 L1235.1,245.3 L1235.3,246.8 L1235.4,248.3 L1235.6,250.0 L1235.7,250.9 L1235.8,251.9 L1235.8,253.0 L1235.9,254.0 L1236.0,255.1 L1236.1,256.2 L1236.2,257.4 L1236.2,258.5 L1236.3,259.7 L1236.4,260.9 L1236.5,262.2 L1236.6,263.4 L1236.6,264.7 L1236.7,266.0 L1236.8,267.3 L1236.9,268.6 L1237.0,269.9 L1237.0,271.2 L1237.1,272.5 L1237.2,273.8 L1237.3,275.2 L1237.4,276.5 L1237.5,277.8 L1237.6,279.1 L1237.7,280.4 L1237.8,281.7 L1237.9,282.9 L1238.0,284.2 L1238.1,285.4 L1238.2,286.7 L1238.3,287.9 L1238.4,289.2 L1238.6,290.5 L1238.7,291.8 L1238.8,293.1 L1238.9,294.4 L1239.1,295.7 L1239.2,297.0 L1239.3,298.4 L1239.5,299.7 L1239.6,301.0 L1239.7,302.3 L1239.9,303.6 L1240.0,304.9 L1240.1,306.2 L1240.3,307.5 L1240.4,308.8 L1240.5,310.0 L1240.7,311.2 L1240.8,312.4 L1240.9,313.6 L1241.0,314.7 L1241.2,315.9 L1241.3,316.9 L1241.4,318.0 L1241.5,319.0 L1241.6,320.0 L1241.8,321.7 L1242.0,323.2 L1242.1,324.7 L1242.3,326.1 L1242.4,327.3 L1242.6,328.5 L1242.7,329.7 L1242.9,330.8 L1243.0,331.9 L1243.2,333.0 L1243.3,334.1 L1243.4,335.2 L1243.6,336.3 L1243.7,337.5 L1243.9,338.7 L1244.0,340.0 L1244.1,341.2 L1244.3,342.4 L1244.4,343.6 L1244.5,344.8 L1244.6,346.1 L1244.7,347.3 L1244.9,348.6 L1245.0,349.8 L1245.1,351.1 L1245.2,352.4 L1245.3,353.6 L1245.5,354.9 L1245.6,356.2 L1245.7,357.5 L1245.8,358.7 L1246.0,360.0 L1246.1,361.2 L1246.2,362.5 L1246.3,363.7 L1246.5,365.0 L1246.6,366.2 L1246.7,367.5 L1246.8,368.7 L1247.0,370.0 L1247.1,371.2 L1247.2,372.5 L1247.3,373.7 L1247.5,374.9 L1247.6,376.2 L1247.7,377.4 L1247.9,378.7 L1248.0,379.9 L1248.1,381.2 L1248.2,382.4 L1248.4,383.7 L1248.5,384.9 L1248.6,386.1 L1248.7,387.4 L1248.9,388.6 L1249.0,389.9 L1249.1,391.1 L1249.2,392.4 L1249.4,393.6 L1249.5,394.9 L1249.6,396.1 L1249.7,397.4 L1249.8,398.6 L1250.0,399.9 L1250.1,401.1 L1250.2,402.4 L1250.3,403.6 L1250.5,404.9 L1250.6,406.1 L1250.7,407.4 L1250.8,408.6 L1251.0,409.9 L1251.1,411.1 L1251.2,412.4 L1251.3,413.6 L1251.5,414.9 L1251.6,416.1 L1251.7,417.4 L1251.8,418.6 L1252.0,419.9 L1252.1,421.1 L1252.2,422.4 L1252.4,423.6 L1252.5,424.9 L1252.6,426.1 L1252.7,427.4 L1252.9,428.6 L1253.0,429.9 L1253.1,431.2 L1253.3,432.4 L1253.4,433.7 L1253.5,435.0 L1253.6,436.3 L1253.8,437.7 L1253.9,439.0 L1254.0,440.3 L1254.1,441.6 L1254.3,442.9 L1254.4,444.1 L1254.5,445.4 L1254.6,446.6 L1254.8,447.9 L1254.9,449.0 L1255.0,450.2 L1255.1,451.3 L1255.2,452.4 L1255.3,453.9 L1255.5,455.3 L1255.6,456.7 L1255.8,458.1 L1255.9,459.4 L1256.0,460.7 L1256.1,461.9 L1256.3,463.1 L1256.4,464.3 L1256.5,465.3 L1256.6,466.3 L1256.7,467.2 L1256.8,468.1 L1257.1,470.2 L1257.3,471.6 L1257.4,472.6 L1257.6,473.5 L1258.0,475.2 L1258.3,476.1 L1258.7,475.2 L1259.0,473.5 L1259.1,472.6 L1259.3,471.6 L1259.4,470.2 L1259.7,468.1 L1259.8,467.2 L1259.9,466.3 L1260.0,465.3 L1260.1,464.3 L1260.3,463.1 L1260.4,461.9 L1260.6,460.7 L1260.7,459.4 L1260.9,458.1 L1261.0,456.7 L1261.2,455.3 L1261.3,453.9 L1261.5,452.4 L1261.6,451.3 L1261.8,450.2 L1261.9,449.0 L1262.0,447.9 L1262.2,446.6 L1262.3,445.4 L1262.5,444.1 L1262.6,442.9 L1262.8,441.6 L1262.9,440.3 L1263.1,439.0 L1263.2,437.7 L1263.4,436.3 L1263.5,435.0 L1263.7,433.7 L1263.8,432.4 L1264.0,431.2 L1264.1,429.9 L1264.2,428.6 L1264.4,427.4 L1264.5,426.2 L1264.7,424.9 L1264.8,423.6 L1264.9,422.4 L1265.1,421.1 L1265.2,419.9 L1265.3,418.6 L1265.5,417.4 L1265.6,416.1 L1265.8,414.9 L1265.9,413.6 L1266.0,412.4 L1266.2,411.1 L1266.3,409.9 L1266.5,408.6 L1266.6,407.4 L1266.7,406.1 L1266.9,404.9 L1267.0,403.6 L1267.2,402.4 L1267.3,401.1 L1267.5,399.9 L1267.6,398.6 L1267.8,397.4 L1267.9,396.1 L1268.0,394.9 L1268.2,393.6 L1268.3,392.4 L1268.5,391.1 L1268.6,389.9 L1268.8,388.6 L1268.9,387.4 L1269.1,386.1 L1269.2,384.9 L1269.3,383.7 L1269.5,382.4 L1269.6,381.2 L1269.8,379.9 L1269.9,378.7 L1270.0,377.4 L1270.2,376.2 L1270.3,374.9 L1270.5,373.7 L1270.6,372.5 L1270.7,371.2 L1270.9,370.0 L1271.0,368.7 L1271.1,367.5 L1271.3,366.2 L1271.4,365.0 L1271.6,363.7 L1271.7,362.5 L1271.8,361.2 L1272.0,360.0 L1272.1,358.7 L1272.3,357.5 L1272.4,356.2 L1272.6,354.9 L1272.7,353.7 L1272.9,352.4 L1273.0,351.1 L1273.2,349.9 L1273.3,348.6 L1273.5,347.4 L1273.6,346.1 L1273.7,344.9 L1273.9,343.7 L1274.0,342.4 L1274.2,341.2 L1274.3,340.0 L1274.4,338.8 L1274.6,337.7 L1274.7,336.8 L1274.8,335.9 L1274.9,335.0 L1275.0,334.2 L1275.1,333.4 L1275.2,332.5 L1275.3,331.6 L1275.4,330.7 L1275.5,329.6 L1275.6,328.3 L1275.8,326.9 L1276.0,325.3 L1276.2,323.5 L1276.4,321.5 L1276.6,319.2 L1276.7,318.4 L1276.8,317.5 L1276.9,316.7 L1276.9,315.8 L1277.0,314.8 L1277.1,313.9 L1277.2,312.9 L1277.3,311.9 L1277.4,310.9 L1277.5,309.8 L1277.7,308.7 L1277.8,307.6 L1277.9,306.5 L1278.0,305.4 L1278.1,304.2 L1278.2,303.0 L1278.3,301.9 L1278.5,300.7 L1278.6,299.4 L1278.7,298.2 L1278.8,297.0 L1278.9,295.7 L1279.1,294.4 L1279.2,293.1 L1279.3,291.9 L1279.4,290.6 L1279.6,289.3 L1279.7,287.9 L1279.8,286.6 L1280.0,285.3 L1280.1,284.0 L1280.2,282.6 L1280.4,281.3 L1280.5,280.0 L1280.6,278.6 L1280.8,277.3 L1280.9,276.0 L1281.0,274.6 L1281.2,273.3 L1281.3,272.0 L1281.4,270.7 L1281.5,269.3 L1281.7,268.0 L1281.8,266.7 L1281.9,265.4 L1282.1,264.2 L1282.2,262.9 L1282.3,261.6 L1282.4,260.4 L1282.6,259.1 L1282.7,257.9 L1282.8,256.7 L1282.9,255.5 L1283.0,254.3 L1283.2,253.1 L1283.3,251.9 L1283.4,250.6 L1283.5,249.4 L1283.6,248.2 L1283.8,247.0 L1283.9,245.7 L1284.0,244.5 L1284.1,243.3 L1284.2,242.0 L1284.4,240.8 L1284.5,239.5 L1284.6,238.3 L1284.7,237.1 L1284.9,235.8 L1285.0,234.6 L1285.1,233.3 L1285.2,232.1 L1285.3,230.9 L1285.5,229.6 L1285.6,228.4 L1285.7,227.1 L1285.8,225.9 L1286.0,224.7 L1286.1,223.4 L1286.2,222.2 L1286.3,221.0 L1286.4,219.8 L1286.6,218.5 L1286.7,217.3 L1286.8,216.1 L1286.9,214.9 L1287.0,213.7 L1287.2,212.5 L1287.3,211.3 L1287.4,210.1 L1287.5,208.9 L1287.7,207.8 L1287.8,206.6 L1287.9,205.4 L1288.0,204.3 L1288.1,203.1 L1288.3,202.0 L1288.4,200.8 L1288.5,199.7 L1288.6,198.6 L1288.7,197.5 L1288.9,196.4 L1289.0,195.3 L1289.1,194.2 L1289.3,192.8 L1289.4,191.4 L1289.6,190.1 L1289.7,188.7 L1289.9,187.3 L1290.0,185.9 L1290.2,184.5 L1290.4,183.2 L1290.5,181.8 L1290.7,180.4 L1290.8,179.0 L1291.0,177.7 L1291.2,176.3 L1291.3,174.9 L1291.5,173.6 L1291.7,172.3 L1291.8,170.9 L1292.0,169.6 L1292.2,168.3 L1292.3,167.0 L1292.5,165.7 L1292.6,164.5 L1292.8,163.2 L1292.9,162.0 L1293.1,160.8 L1293.3,159.5 L1293.4,158.4 L1293.6,157.2 L1293.7,156.1 L1293.9,154.9 L1294.0,153.8 L1294.1,152.7 L1294.3,151.7 L1294.4,150.7 L1294.6,149.7 L1294.7,148.7 L1294.8,147.7 L1294.9,146.8 L1295.1,145.9 L1295.2,145.0 L1295.3,144.2 L1295.6,141.9 L1295.9,140.0 L1296.2,138.3 L1296.4,136.7 L1296.7,135.4 L1296.9,134.3 L1297.1,133.2 L1297.3,132.3 L1297.5,131.4 L1297.7,130.6 L1297.9,129.8 L1298.1,128.9 L1298.3,128.0 L1298.5,127.0 L1298.8,125.6 L1299.1,124.2 L1299.4,122.9 L1299.8,121.6 L1300.1,120.4 L1300.4,119.2 L1300.7,118.1 L1301.0,117.0 L1301.3,116.0 L1301.6,115.0 L1302.1,113.5 L1302.6,112.4 L1303.0,111.2 L1303.5,110.0 L1304.0,109.0 L1304.5,108.2 L1305.1,106.9 L1305.7,105.6 L1306.3,104.2 L1307.0,103.2 L1307.8,102.6 L1308.7,102.0 L1309.6,100.9 L1310.7,99.8 L1311.8,99.2 L1313.0,98.8 L1314.1,98.7 L1315.2,98.3 L1316.4,97.6 L1317.7,96.8 L1319.0,96.8 L1320.3,96.9 L1321.4,96.7 L1322.6,96.3 L1323.7,96.2 L1324.9,96.2 L1326.1,96.1 L1327.4,96.0 L1328.8,95.6 L1330.0,95.8 L1331.2,96.1 L1332.5,96.2 L1333.8,95.9 L1335.2,95.5 L1336.5,95.0 L1337.9,94.8 L1339.2,94.8 L1340.4,95.0 L1341.8,94.8 L1343.1,94.4 L1344.4,94.4 L1345.7,94.7 L1347.0,95.0 L1348.2,94.8 L1349.4,94.7 L1350.5,94.5 L1351.9,94.1 L1353.1,93.7 L1354.3,93.4 L1355.4,93.2 L1356.5,92.8 L1357.7,92.5 L1358.9,92.0 L1360.2,91.7 L1361.4,91.8 L1362.6,91.7 L1363.8,91.3 L1364.9,90.7 L1366.2,90.0 L1367.4,89.0 L1368.6,87.7 L1369.7,86.6 L1370.7,86.6 L1371.8,87.6 L1372.9,88.9 L1373.9,90.2 L1375.0,90.6 L1376.0,90.2 L1377.2,89.3 L1378.3,88.3 L1379.5,86.9 L1380.7,86.4 L1382.1,86.6 L1383.6,86.9 L1385.0,87.3 L1386.5,87.5 L1387.6,87.2 L1388.7,86.6 L1389.8,85.9 L1391.0,85.2 L1392.3,85.1 L1393.4,84.8 L1394.6,84.2 L1395.9,83.5 L1397.2,83.3 L1398.5,83.6 L1399.7,83.2 L1400.9,82.7 L1402.2,82.1 L1403.5,82.3 L1404.7,81.9 L1405.9,81.3 L1407.0,80.9 L1408.1,81.0 L1409.3,80.8 L1410.5,80.2 L1411.5,79.5 L1412.7,79.1 L1413.9,79.0 L1415.0,79.3 L1416.2,80.0 L1417.5,80.8 L1418.8,81.4 L1420.0,81.6 L1421.1,82.0 L1422.2,82.0 L1423.2,81.3 L1424.2,80.5 L1425.1,79.5 L1426.0,78.5 L1426.9,78.1 L1428.4,77.6 L1429.7,77.7 L1431.2,77.6 L1432.2,78.0 L1433.3,78.7 L1434.5,79.1 L1435.7,79.5 L1437.0,79.6 L1438.1,79.7 L1439.2,79.1 L1440.4,78.4 L1441.6,77.6 L1442.9,76.9 L1444.2,76.4 L1445.4,76.6 L1446.6,76.9 L1447.8,77.0 L1449.0,76.6 L1450.3,76.2 L1451.6,75.9 L1452.8,75.5 L1454.0,75.4 L1455.2,75.5 L1456.4,76.0 L1457.6,76.3 L1458.8,76.5 L1460.1,76.2 L1461.5,75.8 L1462.6,75.8 L1463.8,76.0 L1465.0,76.1 L1466.3,75.6 L1467.5,75.5 L1468.8,75.1 L1470.1,74.9 L1471.5,74.6 L1472.8,74.5 L1474.0,74.2 L1475.4,74.3 L1476.7,74.7 L1478.1,74.7 L1479.5,74.4 L1480.9,74.5 L1482.2,74.5 L1483.4,73.9 L1484.6,73.9 L1485.6,73.9 L1487.3,73.6 L1488.6,72.3 L1489.7,71.5 L1490.8,71.0 L1492.0,70.9 L1493.3,71.0 L1494.7,70.8 L1496.1,70.8 L1497.4,70.8 L1498.5,71.0 L1500.0,71.9 L1501.3,72.5 L1502.3,72.5 L1503.3,71.1 L1504.2,70.3 L1505.1,71.0 L1506.0,71.9 L1507.4,72.3 L1508.5,71.7 L1509.7,70.9 L1511.0,70.3 L1512.4,70.0 L1513.8,69.7 L1515.0,69.3 L1516.3,68.9 L1517.6,68.5 L1518.9,68.3 L1520.2,67.8 L1521.5,66.9 L1522.8,66.5 L1524.1,66.2 L1525.4,66.3 L1526.6,66.6 L1527.9,66.9 L1529.2,66.9 L1530.5,66.7 L1531.8,66.3 L1533.1,65.6 L1534.4,65.5 L1535.7,65.6 L1536.9,66.0 L1538.3,65.8 L1539.6,65.7 L1540.9,65.5 L1542.1,65.6 L1543.3,65.3 L1544.7,64.5 L1546.0,63.8 L1547.2,63.6 L1548.5,63.5 L1549.8,63.1 L1551.1,62.3 L1552.4,62.1 L1553.6,62.5 L1554.9,63.4 L1556.1,64.1 L1557.4,64.7 L1558.6,65.3 L1560.0,65.8 L1561.4,66.5 L1562.6,66.8 L1563.6,65.9 L1564.5,64.3 L1565.4,63.2 L1566.4,62.5 L1567.6,62.0 L1568.8,61.3 L1570.1,61.2 L1571.5,61.1 L1572.7,61.5 L1574.0,61.9 L1575.4,62.3 L1576.7,62.7 L1577.9,63.1 L1579.3,63.5 L1580.6,63.3 L1581.8,62.9 L1583.1,62.7 L1584.4,62.6 L1585.7,62.2 L1586.9,61.8 L1588.2,61.9 L1589.5,62.5 L1590.7,63.1 L1592.0,63.4 L1593.3,62.8 L1594.7,62.6 L1596.1,63.1 L1597.4,63.7 L1598.5,63.7 L1599.4,62.8 L1600.1,61.5 L1601.0,60.3 L1602.1,60.1 L1603.5,59.8 L1604.9,59.9 L1606.2,60.0 L1607.6,60.8 L1608.9,61.7 L1610.0,62.7 L1611.4,62.5 L1612.6,62.4 L1613.5,63.0 L1614.5,64.3 L1615.1,65.0" fill="none" stroke="#da0a0a" stroke-width="2.60" stroke-linejoin="round" stroke-linecap="round"/>
<path d="M905.6,33.8 L905.7,34.6 L905.8,35.6 L905.9,36.8 L906.0,38.1 L906.1,39.5 L906.3,41.0 L906.5,42.4 L906.6,43.8 L906.8,45.0 L907.0,46.3 L907.2,47.7 L907.4,49.1 L907.6,50.5 L907.9,51.8 L908.1,52.9 L908.4,53.8 L908.8,54.3 L909.9,55.0 L911.2,54.5 L912.8,54.1 L913.8,54.9 L914.9,55.6 L916.2,55.8 L917.4,55.9 L918.7,56.4 L920.0,57.0 L921.3,57.3 L922.8,57.5 L924.2,58.0 L925.6,58.8 L926.9,58.9 L928.0,58.6 L929.5,58.0 L930.5,57.3 L932.0,57.1 L933.1,57.4 L934.4,58.3 L935.7,59.0 L937.2,59.4 L938.6,59.7 L940.0,60.1 L941.3,60.3 L942.6,60.2 L943.8,60.4 L945.1,60.7 L946.5,61.0 L948.1,61.0 L949.2,61.1 L950.4,61.6 L951.7,62.4 L953.0,62.9 L954.4,63.2 L955.7,63.5 L957.0,63.4 L958.2,63.4 L959.2,63.1 L960.0,63.1 L961.3,62.5 L962.5,62.6 L963.4,63.1 L964.5,63.6 L965.8,63.9 L967.2,63.9 L968.7,64.1 L970.1,64.1 L971.5,64.3 L972.9,64.5 L974.2,65.0 L975.5,65.3 L976.8,65.4 L978.1,65.3 L979.4,65.9 L980.7,66.1 L982.0,66.3 L983.3,66.3 L984.6,66.5 L985.9,66.3 L987.2,66.5 L988.5,66.5 L989.9,66.8 L991.2,66.9 L992.5,67.2 L993.8,67.2 L995.1,67.6 L996.4,67.9 L997.7,67.8 L999.0,67.3 L1000.3,67.2 L1001.6,67.5 L1002.9,68.2 L1004.2,68.4 L1005.5,68.7 L1006.8,69.0 L1008.1,69.4 L1009.4,69.7 L1010.7,70.0 L1012.0,70.1 L1013.3,70.7 L1014.6,71.4 L1015.9,71.4 L1017.2,71.2 L1018.5,71.4 L1019.8,72.1 L1021.1,72.5 L1022.4,72.5 L1023.7,72.4 L1025.0,72.8 L1026.3,73.3 L1027.6,73.6 L1028.8,73.7 L1030.1,74.0 L1031.4,74.5 L1032.7,74.8 L1034.0,75.2 L1035.4,75.5 L1036.6,76.0 L1037.8,76.0 L1039.0,76.2 L1040.3,76.4 L1041.5,76.7 L1042.8,76.6 L1044.1,76.6 L1045.5,76.8 L1047.0,77.3 L1048.1,77.8 L1049.2,78.0 L1050.4,78.1 L1051.6,78.1 L1052.8,78.3 L1054.1,79.0 L1055.3,79.6 L1056.6,79.7 L1057.8,79.6 L1059.0,79.7 L1060.2,80.0 L1061.4,80.3 L1062.5,80.6 L1063.9,80.7 L1065.2,80.7 L1066.5,81.3 L1067.7,82.0 L1068.9,82.8 L1070.1,83.1 L1071.3,83.5 L1072.5,83.9 L1073.8,84.5 L1075.0,85.0 L1076.1,85.5 L1077.3,85.9 L1078.5,86.4 L1079.6,86.8 L1080.8,87.4 L1082.0,87.9 L1083.1,88.7 L1084.2,89.2 L1085.4,89.7 L1086.4,90.3 L1087.5,91.1 L1088.7,91.7 L1089.8,92.2 L1091.0,92.7 L1092.1,93.2 L1093.2,94.2 L1094.3,95.1 L1095.3,95.5 L1096.3,95.9 L1097.1,96.5 L1097.9,97.4 L1098.8,98.3 L1099.6,99.4 L1100.2,100.3 L1100.7,101.3 L1101.2,102.4 L1101.6,103.4 L1102.1,104.4 L1102.7,105.7 L1103.1,107.1 L1103.6,108.5 L1104.1,109.9 L1104.6,111.2 L1105.2,112.2 L1106.1,112.9 L1107.1,113.2 L1108.1,113.7 L1109.3,114.3 L1110.4,115.7 L1111.1,116.8 L1111.9,117.9 L1112.8,118.8 L1113.6,119.6 L1114.5,120.6 L1115.3,121.8 L1116.0,122.9 L1116.7,123.3 L1118.2,123.5 L1119.5,122.9 L1120.8,122.9 L1121.5,123.0 L1122.2,123.7 L1123.0,124.9 L1123.7,126.2 L1124.4,127.5 L1125.0,128.6 L1125.7,130.0 L1126.2,131.3 L1126.8,132.6 L1127.4,133.5 L1128.1,133.8 L1129.0,133.5 L1130.1,133.0 L1131.2,132.2 L1132.3,131.3 L1133.3,129.9 L1133.9,128.9 L1134.5,127.7 L1135.1,126.6 L1135.6,125.5 L1136.2,124.2 L1136.8,123.1 L1137.5,122.1 L1138.6,121.1 L1139.9,120.5 L1141.2,119.9 L1142.5,119.6 L1143.8,118.7 L1145.0,118.3 L1146.2,118.4 L1147.5,119.1 L1148.8,119.6 L1150.0,120.1 L1151.3,120.6 L1152.6,121.0 L1153.9,122.1 L1155.1,123.1 L1156.2,123.9 L1157.1,124.1 L1157.8,124.9 L1158.5,125.6 L1159.1,126.6 L1159.7,128.1 L1160.4,129.8 L1160.8,130.6 L1161.1,131.7 L1161.5,132.9 L1161.9,134.2 L1162.3,135.5 L1162.7,136.9 L1163.0,138.3 L1163.4,139.7 L1163.7,141.0 L1164.1,142.2 L1164.3,143.3 L1164.6,144.2 L1165.2,146.2 L1165.5,147.5 L1165.8,148.5 L1166.1,150.0 L1166.3,151.0 L1166.5,152.1 L1166.8,153.2 L1167.0,154.4 L1167.2,155.7 L1167.4,157.1 L1167.7,158.8 L1167.9,159.8 L1168.0,160.9 L1168.2,162.1 L1168.4,163.3 L1168.5,164.6 L1168.7,165.9 L1168.9,167.3 L1169.1,168.6 L1169.2,170.0 L1169.4,171.3 L1169.6,172.7 L1169.7,174.0 L1169.8,175.2 L1169.9,176.4 L1170.0,177.6 L1170.1,178.7 L1170.2,179.9 L1170.3,181.1 L1170.3,182.3 L1170.4,183.5 L1170.5,184.8 L1170.6,186.0 L1170.7,187.3 L1170.8,188.6 L1170.9,190.0 L1171.0,191.1 L1171.1,192.2 L1171.2,193.3 L1171.3,194.4 L1171.4,195.4 L1171.5,196.5 L1171.6,197.6 L1171.7,198.8 L1171.9,200.0 L1172.0,201.2 L1172.1,202.5 L1172.2,203.9 L1172.4,205.3 L1172.5,206.8 L1172.7,208.4 L1172.8,210.1 L1172.9,211.1 L1173.0,212.1 L1173.1,213.1 L1173.1,214.2 L1173.2,215.3 L1173.3,216.4 L1173.4,217.6 L1173.5,218.8 L1173.6,220.0 L1173.7,221.2 L1173.8,222.5 L1173.9,223.7 L1174.0,225.0 L1174.1,226.3 L1174.2,227.6 L1174.3,228.9 L1174.4,230.2 L1174.5,231.5 L1174.6,232.8 L1174.7,234.1 L1174.8,235.4 L1174.9,236.7 L1175.0,237.9 L1175.1,239.2 L1175.2,240.4 L1175.3,241.6 L1175.4,242.8 L1175.5,244.0 L1175.6,245.1 L1175.7,246.2 L1175.8,247.5 L1175.9,248.9 L1176.0,250.2 L1176.1,251.5 L1176.2,252.7 L1176.3,254.0 L1176.5,255.2 L1176.6,256.5 L1176.7,257.7 L1176.8,258.9 L1176.9,260.1 L1177.0,261.3 L1177.1,262.5 L1177.2,263.6 L1177.3,264.8 L1177.4,266.0 L1177.5,267.1 L1177.5,268.2 L1177.6,269.4 L1177.7,270.5 L1177.8,271.6 L1177.9,272.8 L1178.0,273.9 L1178.1,275.0 L1178.2,276.3 L1178.3,277.7 L1178.4,279.0 L1178.5,280.3 L1178.6,281.6 L1178.7,282.9 L1178.8,284.1 L1178.9,285.4 L1179.0,286.7 L1179.1,287.9 L1179.1,289.2 L1179.2,290.4 L1179.3,291.6 L1179.4,292.8 L1179.5,294.0 L1179.6,295.2 L1179.7,296.4 L1179.8,297.6 L1179.9,298.8 L1180.0,300.0 L1180.1,301.3 L1180.2,302.6 L1180.4,304.0 L1180.5,305.3 L1180.6,306.7 L1180.8,308.0 L1180.9,309.4 L1181.1,310.7 L1181.2,312.0 L1181.3,313.3 L1181.5,314.5 L1181.6,315.7 L1181.7,316.9 L1181.9,318.1 L1182.0,319.2 L1182.1,320.2 L1182.2,321.2 L1182.3,322.1 L1182.5,324.0 L1182.7,325.6 L1182.8,326.9 L1183.0,328.2 L1183.1,329.2 L1183.2,330.2 L1183.3,331.1 L1183.4,332.0 L1183.6,334.2 L1183.7,335.7 L1183.8,336.3 L1184.2,335.9 L1184.6,334.0 L1184.8,333.4 L1185.0,333.0 L1185.3,331.8 L1185.8,328.8 L1185.9,328.0 L1186.0,327.2 L1186.1,326.3 L1186.3,325.3 L1186.4,324.3 L1186.5,323.2 L1186.7,322.0 L1186.8,320.8 L1187.0,319.6 L1187.2,318.3 L1187.3,317.0 L1187.5,315.6 L1187.6,314.3 L1187.8,312.9 L1188.0,311.6 L1188.1,310.2 L1188.3,308.8 L1188.4,307.5 L1188.6,306.2 L1188.7,304.9 L1188.8,303.6 L1189.0,302.3 L1189.1,301.1 L1189.2,300.0 L1189.3,298.7 L1189.4,297.4 L1189.5,296.1 L1189.6,294.8 L1189.7,293.6 L1189.8,292.3 L1189.9,291.1 L1189.9,289.9 L1190.0,288.7 L1190.1,287.5 L1190.1,286.3 L1190.2,285.1 L1190.2,283.9 L1190.3,282.7 L1190.4,281.4 L1190.5,280.2 L1190.5,278.9 L1190.6,277.6 L1190.7,276.3 L1190.8,275.0 L1190.9,273.9 L1191.0,272.7 L1191.1,271.5 L1191.2,270.4 L1191.3,269.2 L1191.4,268.0 L1191.5,266.7 L1191.6,265.5 L1191.7,264.3 L1191.8,263.0 L1191.9,261.8 L1192.0,260.6 L1192.1,259.3 L1192.2,258.1 L1192.3,256.8 L1192.5,255.6 L1192.6,254.4 L1192.7,253.1 L1192.8,251.9 L1192.9,250.7 L1193.0,249.5 L1193.1,248.3 L1193.2,247.2 L1193.3,246.0 L1193.4,244.7 L1193.5,243.4 L1193.6,242.2 L1193.7,241.0 L1193.9,239.8 L1194.0,238.6 L1194.1,237.4 L1194.2,236.3 L1194.3,235.1 L1194.4,234.0 L1194.5,232.8 L1194.6,231.6 L1194.7,230.4 L1194.8,229.2 L1194.9,228.0 L1195.0,226.7 L1195.1,225.5 L1195.2,224.2 L1195.3,222.8 L1195.4,221.4 L1195.5,220.0 L1195.6,218.9 L1195.6,217.8 L1195.7,216.7 L1195.8,215.6 L1195.8,214.4 L1195.9,213.2 L1195.9,212.0 L1196.0,210.7 L1196.1,209.5 L1196.1,208.2 L1196.2,206.9 L1196.2,205.7 L1196.3,204.4 L1196.3,203.1 L1196.4,201.8 L1196.4,200.5 L1196.5,199.2 L1196.6,197.9 L1196.6,196.7 L1196.7,195.4 L1196.7,194.2 L1196.8,193.0 L1196.9,191.7 L1196.9,190.6 L1197.0,189.4 L1197.1,188.2 L1197.1,187.1 L1197.2,186.1 L1197.3,185.0 L1197.4,183.5 L1197.5,182.0 L1197.7,180.6 L1197.8,179.2 L1197.9,177.8 L1198.1,176.4 L1198.2,175.1 L1198.4,173.8 L1198.5,172.5 L1198.7,171.2 L1198.8,170.0 L1199.0,168.8 L1199.1,167.6 L1199.3,166.4 L1199.4,165.3 L1199.6,164.2 L1199.8,163.1 L1199.9,162.0 L1200.1,161.0 L1200.2,160.0 L1200.4,158.4 L1200.7,156.9 L1200.9,155.6 L1201.1,154.3 L1201.3,153.1 L1201.6,151.9 L1201.8,150.8 L1202.0,149.7 L1202.3,148.7 L1202.5,147.6 L1202.8,146.6 L1203.1,145.5 L1203.5,144.2 L1203.9,142.9 L1204.3,141.6 L1204.8,140.3 L1205.2,139.0 L1205.7,137.8 L1206.2,136.8 L1206.6,135.9 L1207.0,135.0 L1207.4,134.0 L1208.2,132.3 L1208.8,131.4 L1209.5,131.0 L1210.3,129.6 L1210.7,128.7 L1211.1,127.7 L1211.5,126.7 L1211.9,125.5 L1212.4,124.2 L1212.8,122.9 L1213.3,121.6 L1213.7,120.4 L1214.2,119.3 L1214.6,118.3 L1215.1,117.1 L1215.6,115.8 L1216.0,114.5 L1216.5,113.2 L1217.0,112.0 L1217.5,110.8 L1217.9,109.9 L1218.4,109.1 L1218.9,108.5 L1219.8,106.9 L1220.6,105.9 L1221.4,105.2 L1222.3,104.7 L1223.3,103.9 L1224.6,102.9 L1226.1,102.3 L1227.5,102.1 L1229.0,102.2 L1230.5,102.1 L1231.9,101.9 L1233.4,102.2 L1234.8,102.5 L1236.0,102.8 L1237.0,102.8 L1238.3,103.2 L1240.0,104.0 L1240.9,104.5 L1242.0,104.9 L1243.1,105.4 L1244.3,106.1 L1245.6,106.5 L1246.9,106.7 L1248.1,106.9 L1249.4,107.3 L1250.6,107.9 L1251.7,108.6 L1253.0,109.0 L1254.2,109.2 L1255.5,109.3 L1256.6,109.8 L1257.8,110.2 L1258.9,110.6 L1260.1,110.7 L1261.3,111.1 L1262.5,111.3 L1263.7,112.1 L1264.9,112.8 L1266.1,113.2 L1267.3,113.2 L1268.5,113.5 L1269.7,114.1 L1270.9,115.1 L1272.1,115.6 L1273.3,115.7 L1274.5,116.0 L1275.7,116.8 L1276.9,117.3 L1278.1,117.9 L1279.3,118.8 L1280.5,119.5 L1281.7,120.0 L1282.9,120.8 L1284.1,121.9 L1285.3,122.5 L1286.5,123.2 L1287.7,123.9 L1288.9,124.3 L1290.1,124.5 L1291.3,124.7 L1292.6,125.2 L1293.9,125.2 L1295.2,125.6 L1296.5,125.7 L1297.7,126.2 L1298.7,126.5 L1299.7,126.9 L1301.2,127.2 L1302.3,127.7 L1303.3,127.9 L1304.3,128.4 L1305.4,129.1 L1306.4,130.4 L1307.5,131.3 L1308.7,132.4 L1310.0,132.7 L1311.4,132.4 L1312.8,131.7 L1314.4,132.0 L1315.5,131.9 L1316.7,132.2 L1317.9,132.4 L1319.1,132.6 L1320.4,132.4 L1321.6,133.0 L1322.8,133.8 L1323.9,134.4 L1325.0,134.9 L1326.2,135.3 L1327.5,135.7 L1329.0,135.6 L1330.1,135.9 L1331.3,136.5 L1332.5,137.2 L1333.8,137.0 L1335.2,136.9 L1336.5,137.6 L1337.9,138.3 L1339.3,138.6 L1340.6,138.4 L1341.8,138.9 L1343.0,139.2 L1344.2,139.3 L1345.5,139.2 L1346.7,139.4 L1347.9,140.0 L1349.2,140.4 L1350.4,140.7 L1351.7,140.7 L1352.9,140.8 L1354.1,140.7 L1355.4,140.7 L1356.7,140.9 L1357.9,140.9 L1359.2,140.8 L1360.5,140.5 L1361.7,140.3 L1362.9,140.4 L1364.1,140.3 L1365.3,140.2 L1366.5,139.7 L1367.7,139.4 L1368.8,139.4 L1369.9,139.2 L1371.0,138.9 L1372.2,138.6 L1373.3,138.4 L1374.5,137.4 L1375.8,137.0 L1376.9,136.7 L1378.1,136.5 L1379.3,136.0 L1380.5,135.7 L1381.8,135.1 L1383.0,134.4 L1384.3,134.1 L1385.5,133.9 L1386.8,133.7 L1388.0,133.3 L1389.1,132.7 L1390.3,132.1 L1391.5,131.3 L1392.7,131.1 L1393.8,130.6 L1395.0,129.7 L1396.1,128.4 L1397.2,128.1 L1398.3,127.7 L1399.4,127.0 L1400.5,126.2 L1401.6,125.7 L1402.7,125.2 L1403.8,124.9 L1404.9,124.4 L1406.0,123.6 L1407.0,122.6 L1408.1,121.9 L1409.1,121.1 L1410.1,120.8 L1411.1,120.3 L1412.3,119.7 L1413.5,118.8 L1414.7,118.0 L1415.8,117.1 L1416.9,116.9 L1418.0,116.7 L1419.0,116.4 L1419.9,115.6 L1421.2,114.6 L1422.4,113.8 L1423.4,113.1 L1424.4,112.3 L1425.5,112.1 L1426.9,112.6 L1428.2,113.2 L1429.7,113.6 L1431.2,113.5 L1432.3,113.1 L1433.5,112.5 L1434.7,111.6 L1435.9,110.8 L1437.2,110.1 L1438.4,110.1 L1439.6,109.8 L1440.8,109.3 L1442.0,108.4 L1443.2,107.9 L1444.4,107.4 L1445.6,107.0 L1446.8,106.5 L1448.1,106.0 L1449.3,105.2 L1450.5,104.6 L1451.7,104.0 L1452.8,103.5 L1454.1,102.8 L1455.3,102.3 L1456.5,102.1 L1457.6,101.5 L1458.6,100.7 L1459.8,100.2 L1460.9,99.5 L1461.9,98.8 L1462.9,98.0 L1464.0,97.1 L1465.0,96.5 L1466.4,96.4 L1467.5,97.1 L1468.8,97.7 L1470.1,98.3 L1471.5,98.4 L1472.8,98.6 L1473.7,98.4 L1474.6,97.7 L1475.5,96.6 L1476.5,95.6 L1477.4,94.4 L1478.3,93.1 L1479.2,92.5 L1480.5,91.9 L1481.7,91.7 L1482.9,92.0 L1484.2,92.4 L1485.6,91.8 L1486.8,90.7 L1488.0,90.2 L1489.3,90.3 L1490.6,90.1 L1491.9,89.8 L1493.3,89.3 L1494.5,89.3 L1495.8,89.3 L1497.1,89.8 L1498.4,89.8 L1499.7,89.9 L1501.0,89.8 L1502.3,89.4 L1503.4,89.0 L1504.5,88.7 L1505.6,87.9 L1506.7,87.3 L1507.8,86.9 L1509.0,86.7 L1510.1,85.9 L1511.3,85.2 L1512.5,84.5 L1513.8,83.9 L1515.0,83.4 L1516.3,83.2 L1517.6,83.0 L1518.9,83.0 L1520.2,82.5 L1521.5,82.1 L1522.8,81.6 L1524.1,82.0 L1525.4,82.2 L1526.6,82.1 L1527.9,81.8 L1529.2,81.6 L1530.5,81.4 L1531.8,81.5 L1533.1,81.5 L1534.4,81.5 L1535.7,80.9 L1537.0,80.7 L1538.2,80.1 L1539.5,79.2 L1540.8,78.2 L1542.1,78.1 L1543.4,78.2 L1544.7,77.8 L1546.0,77.4 L1547.4,77.3 L1548.7,77.1 L1549.9,76.4 L1551.1,75.6 L1552.3,75.4 L1553.7,75.6 L1555.1,75.9 L1556.3,75.9 L1557.5,75.9 L1558.7,75.5 L1560.0,75.0 L1561.0,74.1 L1562.0,73.0 L1563.0,71.9 L1564.0,71.0 L1565.0,70.2 L1566.0,69.7 L1566.9,69.4 L1567.7,69.0 L1568.7,69.0 L1569.5,70.3 L1570.2,71.8 L1571.0,73.3 L1571.8,74.4 L1572.8,75.3 L1573.9,75.7 L1575.2,75.6 L1576.5,75.0 L1577.8,74.6 L1579.2,74.4 L1580.5,74.4 L1581.8,74.0 L1583.1,73.8 L1584.4,73.8 L1585.6,73.8 L1586.9,73.4 L1588.2,72.8 L1589.5,72.3 L1590.8,72.1 L1592.1,71.8 L1593.4,71.3 L1594.7,70.5 L1595.9,70.2 L1597.3,70.6 L1598.6,71.3 L1599.8,71.7 L1601.0,71.9 L1602.3,71.8 L1603.6,71.6 L1604.9,71.4 L1606.1,71.5 L1607.4,71.3 L1608.7,71.1 L1610.1,70.7 L1611.6,70.4 L1613.0,69.8 L1614.2,69.4 L1615.1,69.3" fill="none" stroke="#1ee21e" stroke-width="2.60" stroke-linejoin="round" stroke-linecap="round"/>
<path d="M905.1,89.1 L905.8,89.5 L906.7,90.4 L907.7,91.4 L908.4,92.5 L909.0,93.7 L909.7,95.2 L910.3,96.7 L910.9,98.1 L911.6,99.4 L912.2,100.7 L912.8,101.9 L914.0,103.2 L915.4,103.7 L916.6,103.7 L917.9,103.7 L919.2,103.9 L920.4,103.8 L921.7,103.5 L923.1,102.4 L924.0,101.5 L925.1,100.7 L926.1,99.7 L927.2,99.0 L928.2,98.3 L929.0,97.8 L929.9,96.4 L930.7,95.6 L931.6,94.4 L932.4,93.4 L933.3,92.5 L934.4,92.0 L935.4,90.9 L936.5,89.7 L937.5,89.2 L938.5,89.3 L939.5,88.9 L940.5,87.8 L941.4,86.7 L942.3,85.7 L943.6,85.1 L944.9,84.3 L946.2,83.6 L946.9,82.7 L947.5,81.9 L948.2,80.7 L949.0,79.8 L950.0,78.9 L950.9,78.6 L952.0,78.4 L953.2,77.9 L954.5,77.5 L955.8,77.3 L957.1,77.3 L958.3,77.0 L959.5,76.3 L960.7,75.9 L961.9,75.5 L963.1,75.2 L964.3,74.9 L965.5,74.5 L966.7,73.8 L967.9,72.8 L969.1,72.3 L970.3,71.8 L971.4,71.6 L972.6,71.2 L973.8,70.9 L975.0,70.7 L976.2,70.7 L977.3,70.2 L978.4,69.7 L979.6,69.1 L980.8,68.8 L982.0,68.2 L983.3,67.7 L984.5,67.3 L985.8,67.2 L987.1,67.1 L988.4,66.5 L989.7,66.0 L991.1,65.5 L992.4,65.2 L993.8,64.9 L995.1,65.3 L996.4,65.1 L997.7,64.5 L999.0,63.9 L1000.3,63.7 L1001.6,63.6 L1002.9,63.2 L1004.2,63.0 L1005.5,62.7 L1006.9,62.6 L1008.3,62.5 L1009.7,62.3 L1011.0,61.9 L1012.3,61.5 L1013.5,61.6 L1014.6,61.7 L1016.1,62.1 L1017.5,62.4 L1018.7,62.6 L1019.8,62.9 L1020.8,62.8 L1022.0,62.1 L1023.0,60.7 L1024.0,59.7 L1025.0,59.3 L1026.0,60.2 L1027.0,61.5 L1028.0,62.4 L1029.2,62.5 L1030.2,62.3 L1031.3,62.4 L1032.5,62.3 L1033.9,62.1 L1035.4,61.7 L1036.5,61.5 L1037.9,61.6 L1039.3,62.0 L1040.7,62.1 L1042.2,61.8 L1043.5,61.7 L1044.8,62.0 L1045.8,62.3 L1047.6,61.9 L1048.7,61.1 L1050.0,60.7 L1050.9,61.2 L1051.8,62.3 L1052.7,63.4 L1053.8,64.1 L1054.9,65.4 L1056.2,66.6 L1057.4,67.2 L1058.6,67.6 L1060.0,67.7 L1061.3,67.7 L1062.8,67.6 L1064.1,67.9 L1065.5,68.3 L1066.7,68.8 L1067.9,69.5 L1069.0,70.2 L1070.1,71.0 L1071.1,71.8 L1072.1,72.9 L1073.1,73.9 L1074.1,74.5 L1075.0,74.7 L1076.3,74.9 L1077.4,75.3 L1078.5,75.8 L1079.8,76.1 L1081.2,76.7 L1082.1,77.1 L1083.0,77.8 L1083.9,78.5 L1084.9,79.4 L1086.0,80.4 L1087.0,81.1 L1088.0,81.8 L1089.0,82.5 L1090.0,83.4 L1090.9,84.1 L1091.7,84.5 L1093.2,85.0 L1094.5,84.7 L1095.6,84.5 L1096.7,84.4 L1097.9,85.3 L1098.9,86.1 L1099.9,87.0 L1100.9,87.6 L1101.9,88.6 L1103.0,89.4 L1104.2,90.3 L1105.1,90.4 L1106.1,91.2 L1107.2,92.2 L1108.2,93.1 L1109.3,93.7 L1110.4,94.3 L1111.4,95.1 L1112.5,96.0 L1113.4,96.7 L1114.4,97.8 L1115.3,98.7 L1116.3,99.5 L1117.2,100.4 L1118.2,101.9 L1119.1,103.0 L1120.0,103.8 L1120.8,104.5 L1121.7,105.5 L1122.5,106.5 L1123.3,107.4 L1124.1,108.1 L1124.8,108.7 L1125.6,109.7 L1126.3,111.0 L1127.1,112.4 L1127.8,113.2 L1128.5,113.8 L1129.2,114.5 L1129.9,115.8 L1130.5,117.2 L1131.2,118.4 L1131.9,119.5 L1132.6,120.5 L1133.3,121.4 L1134.1,122.1 L1134.9,123.1 L1135.7,124.3 L1136.5,125.7 L1137.2,126.6 L1138.0,127.5 L1138.8,128.5 L1139.6,129.7 L1140.4,130.6 L1141.2,131.5 L1142.0,132.3 L1142.8,133.2 L1143.6,134.6 L1144.4,136.1 L1145.1,137.2 L1145.8,137.6 L1146.6,138.6 L1147.3,139.8 L1148.0,141.2 L1148.6,142.5 L1149.3,143.8 L1149.9,144.7 L1150.5,145.5 L1151.2,146.5 L1151.8,147.8 L1152.4,149.1 L1153.0,150.4 L1153.5,151.7 L1154.0,153.0 L1154.4,154.2 L1154.8,155.4 L1155.1,156.6 L1155.5,157.9 L1155.8,159.2 L1156.2,160.5 L1156.5,162.0 L1156.7,163.0 L1157.0,163.8 L1157.2,164.6 L1157.4,165.4 L1157.6,166.3 L1157.9,167.3 L1158.1,168.5 L1158.3,170.0 L1158.6,171.8 L1158.9,174.0 L1159.0,174.8 L1159.1,175.7 L1159.2,176.6 L1159.3,177.6 L1159.4,178.6 L1159.5,179.7 L1159.7,180.8 L1159.8,181.9 L1159.9,183.1 L1160.0,184.2 L1160.1,185.5 L1160.3,186.7 L1160.4,188.0 L1160.5,189.2 L1160.6,190.5 L1160.8,191.9 L1160.9,193.2 L1161.0,194.5 L1161.1,195.8 L1161.3,197.2 L1161.4,198.5 L1161.5,199.8 L1161.6,201.2 L1161.8,202.5 L1161.9,203.8 L1162.0,205.1 L1162.1,206.4 L1162.3,207.6 L1162.4,208.9 L1162.5,210.1 L1162.6,211.3 L1162.7,212.5 L1162.9,213.7 L1163.0,215.0 L1163.1,216.2 L1163.2,217.4 L1163.4,218.7 L1163.5,219.9 L1163.6,221.2 L1163.8,222.4 L1163.9,223.6 L1164.0,224.9 L1164.1,226.1 L1164.3,227.4 L1164.4,228.6 L1164.5,229.8 L1164.6,231.1 L1164.8,232.3 L1164.9,233.5 L1165.0,234.7 L1165.1,235.9 L1165.2,237.1 L1165.4,238.3 L1165.5,239.4 L1165.6,240.6 L1165.7,241.8 L1165.8,242.9 L1165.9,244.0 L1166.0,245.1 L1166.1,246.2 L1166.2,247.5 L1166.3,248.9 L1166.4,250.2 L1166.6,251.5 L1166.7,252.7 L1166.8,254.0 L1166.9,255.2 L1167.0,256.5 L1167.1,257.7 L1167.2,258.9 L1167.3,260.1 L1167.4,261.3 L1167.4,262.5 L1167.5,263.6 L1167.6,264.8 L1167.7,266.0 L1167.8,267.1 L1167.9,268.2 L1167.9,269.4 L1168.0,270.5 L1168.1,271.6 L1168.2,272.8 L1168.2,273.9 L1168.3,275.0 L1168.4,276.3 L1168.4,277.6 L1168.5,278.9 L1168.6,280.2 L1168.6,281.4 L1168.7,282.7 L1168.7,283.9 L1168.7,285.1 L1168.8,286.3 L1168.8,287.5 L1168.8,288.7 L1168.9,289.9 L1168.9,291.1 L1169.0,292.3 L1169.0,293.6 L1169.1,294.8 L1169.1,296.1 L1169.2,297.4 L1169.3,298.7 L1169.4,300.0 L1169.5,301.1 L1169.6,302.3 L1169.7,303.4 L1169.8,304.6 L1169.9,305.8 L1170.0,306.9 L1170.1,308.1 L1170.2,309.3 L1170.4,310.5 L1170.5,311.7 L1170.6,312.9 L1170.7,314.2 L1170.9,315.4 L1171.0,316.6 L1171.1,317.8 L1171.3,319.1 L1171.4,320.3 L1171.5,321.5 L1171.7,322.7 L1171.8,324.0 L1171.9,325.2 L1172.1,326.4 L1172.2,327.6 L1172.3,328.8 L1172.4,330.0 L1172.5,331.2 L1172.7,332.4 L1172.8,333.7 L1172.9,334.9 L1173.0,336.2 L1173.2,337.4 L1173.3,338.6 L1173.4,339.9 L1173.6,341.1 L1173.7,342.4 L1173.8,343.6 L1173.9,344.8 L1174.1,346.1 L1174.2,347.3 L1174.3,348.5 L1174.4,349.7 L1174.5,350.9 L1174.7,352.1 L1174.8,353.2 L1174.9,354.4 L1175.0,355.5 L1175.1,356.6 L1175.2,357.7 L1175.3,359.1 L1175.4,360.5 L1175.6,361.8 L1175.7,363.2 L1175.8,364.6 L1175.9,366.0 L1176.0,367.3 L1176.1,368.7 L1176.2,370.0 L1176.3,371.3 L1176.4,372.5 L1176.5,373.7 L1176.6,374.9 L1176.7,376.0 L1176.8,377.1 L1176.9,378.1 L1176.9,379.1 L1177.0,380.0 L1177.1,380.8 L1177.4,383.3 L1177.6,384.9 L1177.8,386.0 L1178.0,386.7 L1178.2,387.5 L1178.6,389.0 L1179.0,389.4 L1179.4,389.0 L1179.9,387.5 L1180.1,386.7 L1180.3,386.0 L1180.5,384.9 L1180.7,383.3 L1181.0,380.8 L1181.1,380.0 L1181.2,379.1 L1181.2,378.1 L1181.3,377.1 L1181.4,376.0 L1181.5,374.9 L1181.6,373.7 L1181.7,372.5 L1181.8,371.3 L1181.9,370.0 L1182.0,368.7 L1182.1,367.3 L1182.2,366.0 L1182.3,364.6 L1182.4,363.2 L1182.5,361.8 L1182.7,360.5 L1182.8,359.1 L1182.9,357.7 L1183.0,356.6 L1183.1,355.5 L1183.2,354.4 L1183.3,353.2 L1183.4,352.1 L1183.5,350.9 L1183.7,349.7 L1183.8,348.5 L1183.9,347.3 L1184.0,346.1 L1184.1,344.8 L1184.3,343.6 L1184.4,342.4 L1184.5,341.1 L1184.6,339.9 L1184.8,338.6 L1184.9,337.4 L1185.0,336.2 L1185.1,334.9 L1185.3,333.7 L1185.4,332.4 L1185.5,331.2 L1185.7,330.0 L1185.8,328.8 L1185.9,327.6 L1186.1,326.4 L1186.2,325.2 L1186.4,324.0 L1186.5,322.7 L1186.7,321.5 L1186.8,320.3 L1187.0,319.1 L1187.1,317.8 L1187.3,316.6 L1187.4,315.4 L1187.6,314.2 L1187.7,312.9 L1187.9,311.7 L1188.0,310.5 L1188.2,309.3 L1188.3,308.1 L1188.5,306.9 L1188.6,305.8 L1188.7,304.6 L1188.9,303.4 L1189.0,302.3 L1189.1,301.1 L1189.2,300.0 L1189.3,298.7 L1189.4,297.4 L1189.5,296.1 L1189.6,294.8 L1189.7,293.6 L1189.8,292.3 L1189.9,291.1 L1189.9,289.9 L1190.0,288.7 L1190.1,287.5 L1190.1,286.3 L1190.2,285.1 L1190.2,283.9 L1190.3,282.7 L1190.4,281.4 L1190.5,280.2 L1190.5,278.9 L1190.6,277.6 L1190.7,276.3 L1190.8,275.0 L1190.9,273.9 L1191.0,272.7 L1191.1,271.5 L1191.2,270.4 L1191.3,269.2 L1191.4,268.0 L1191.5,266.7 L1191.6,265.5 L1191.7,264.3 L1191.8,263.0 L1191.9,261.8 L1192.0,260.6 L1192.1,259.3 L1192.2,258.1 L1192.3,256.8 L1192.5,255.6 L1192.6,254.4 L1192.7,253.1 L1192.8,251.9 L1192.9,250.7 L1193.0,249.5 L1193.1,248.3 L1193.2,247.2 L1193.3,246.0 L1193.4,244.7 L1193.5,243.4 L1193.6,242.2 L1193.7,241.0 L1193.9,239.8 L1194.0,238.6 L1194.1,237.4 L1194.2,236.3 L1194.3,235.1 L1194.4,234.0 L1194.5,232.8 L1194.6,231.6 L1194.7,230.4 L1194.8,229.2 L1194.9,228.0 L1195.0,226.7 L1195.1,225.5 L1195.2,224.2 L1195.3,222.8 L1195.4,221.4 L1195.5,220.0 L1195.6,218.9 L1195.6,217.8 L1195.7,216.7 L1195.8,215.6 L1195.8,214.4 L1195.9,213.2 L1195.9,212.0 L1196.0,210.7 L1196.1,209.5 L1196.1,208.2 L1196.2,206.9 L1196.2,205.7 L1196.3,204.4 L1196.3,203.1 L1196.4,201.8 L1196.4,200.5 L1196.5,199.2 L1196.6,197.9 L1196.6,196.7 L1196.7,195.4 L1196.7,194.2 L1196.8,193.0 L1196.9,191.7 L1196.9,190.6 L1197.0,189.4 L1197.1,188.2 L1197.1,187.1 L1197.2,186.1 L1197.3,185.0 L1197.4,183.5 L1197.5,182.0 L1197.7,180.6 L1197.8,179.2 L1197.9,177.8 L1198.1,176.4 L1198.2,175.1 L1198.4,173.8 L1198.5,172.5 L1198.7,171.2 L1198.8,170.0 L1199.0,168.8 L1199.1,167.6 L1199.3,166.4 L1199.4,165.3 L1199.6,164.2 L1199.8,163.1 L1199.9,162.0 L1200.1,161.0 L1200.2,160.0 L1200.4,158.4 L1200.7,156.9 L1200.9,155.6 L1201.1,154.3 L1201.3,153.1 L1201.6,151.9 L1201.8,150.8 L1202.0,149.7 L1202.3,148.7 L1202.5,147.6 L1202.8,146.6 L1203.1,145.5 L1203.5,144.2 L1203.8,143.0 L1204.2,141.8 L1204.6,140.6 L1205.1,139.5 L1205.5,138.4 L1206.0,137.3 L1206.4,136.2 L1206.9,134.9 L1207.4,133.9 L1208.0,132.7 L1208.6,131.5 L1209.3,130.1 L1210.0,129.1 L1210.6,128.0 L1211.3,126.7 L1212.0,125.4 L1212.6,124.2 L1213.2,123.5 L1214.3,122.4 L1215.3,121.8 L1216.4,121.4 L1217.5,120.8 L1218.6,120.5 L1219.7,119.7 L1220.9,119.0 L1222.1,118.4 L1223.3,118.3 L1224.7,118.2 L1226.2,118.5 L1227.6,118.9 L1229.0,119.4 L1230.4,119.4 L1231.8,119.5 L1233.2,119.5 L1234.8,119.7 L1235.9,119.9 L1237.0,120.0 L1238.2,119.7 L1239.4,119.5 L1240.7,119.6 L1242.1,119.7 L1243.2,119.6 L1244.3,119.4 L1245.5,118.7 L1246.8,118.0 L1248.0,117.2 L1249.2,116.6 L1250.5,116.2 L1251.7,115.7 L1252.9,115.5 L1254.2,115.4 L1255.4,114.9 L1256.7,113.8 L1257.9,113.5 L1259.1,113.4 L1260.2,112.9 L1261.3,112.1 L1262.6,112.0 L1263.9,112.4 L1265.0,112.5 L1266.2,112.4 L1267.3,112.4 L1268.5,112.6 L1269.7,112.6 L1270.8,112.7 L1272.0,113.2 L1273.1,114.2 L1274.4,115.0 L1275.7,116.0 L1276.8,116.9 L1277.9,117.5 L1279.1,118.1 L1280.3,118.3 L1281.6,118.8 L1282.8,119.4 L1284.1,120.2 L1285.3,120.9 L1286.5,121.6 L1287.7,122.0 L1288.9,122.4 L1290.1,122.9 L1291.3,123.5 L1292.5,123.8 L1293.7,124.2 L1294.9,124.8 L1296.3,125.1 L1297.6,125.2 L1299.0,125.1 L1300.4,125.1 L1301.8,124.9 L1303.1,124.6 L1304.5,124.3 L1305.7,124.2 L1306.9,124.3 L1308.2,124.3 L1309.4,124.1 L1310.7,123.8 L1311.8,123.6 L1313.0,123.3 L1314.1,123.2 L1315.5,123.1 L1316.7,123.3 L1317.9,123.3 L1319.1,124.0 L1320.3,124.6 L1321.6,124.6 L1322.8,124.2 L1324.0,124.3 L1325.3,124.5 L1326.5,124.6 L1327.7,124.7 L1328.9,125.0 L1330.0,124.4 L1331.3,124.1 L1332.4,124.0 L1333.4,124.3 L1334.6,123.9 L1336.0,123.4 L1337.1,122.9 L1338.3,122.9 L1339.7,123.0 L1341.1,122.7 L1342.4,122.2 L1343.8,122.1 L1345.0,122.0 L1346.1,121.8 L1347.9,121.5 L1349.3,121.3 L1350.6,120.8 L1351.9,120.4 L1353.1,120.2 L1354.3,119.8 L1355.5,118.8 L1356.6,118.2 L1357.7,117.6 L1359.2,117.6 L1360.5,117.9 L1362.0,117.9 L1362.9,117.4 L1363.8,116.5 L1364.8,115.8 L1365.8,114.9 L1366.8,114.1 L1367.8,113.2 L1368.9,112.7 L1370.0,111.9 L1371.1,110.9 L1372.3,110.1 L1373.5,109.4 L1374.6,109.0 L1375.8,108.7 L1377.1,108.8 L1378.3,108.6 L1379.6,108.5 L1380.7,108.4 L1382.2,108.5 L1383.6,108.2 L1385.0,107.8 L1386.5,107.1 L1387.6,106.5 L1388.8,106.4 L1390.0,106.6 L1391.2,106.7 L1392.5,106.2 L1393.7,105.4 L1394.9,104.6 L1396.2,103.9 L1397.4,103.6 L1398.6,103.1 L1399.8,102.6 L1400.9,102.1 L1402.4,101.9 L1403.7,101.8 L1405.1,101.8 L1406.7,101.5 L1407.7,101.5 L1408.8,101.4 L1409.9,101.0 L1411.1,100.2 L1412.4,99.4 L1413.8,99.1 L1415.4,98.9 L1416.4,98.8 L1417.5,98.4 L1418.6,98.1 L1419.8,97.8 L1421.0,97.5 L1422.2,97.6 L1423.5,97.9 L1424.8,97.6 L1426.1,97.0 L1427.3,96.6 L1428.6,96.6 L1429.8,96.6 L1431.0,96.4 L1432.2,96.1 L1433.4,95.7 L1434.6,95.7 L1435.8,95.4 L1437.0,95.2 L1438.2,94.9 L1439.4,94.9 L1440.6,94.4 L1441.8,94.2 L1443.0,93.9 L1444.2,93.4 L1445.4,93.3 L1446.6,93.3 L1447.9,93.6 L1449.1,93.4 L1450.3,93.4 L1451.6,93.4 L1452.8,93.3 L1454.0,93.2 L1455.2,93.2 L1456.4,93.0 L1457.5,93.1 L1458.6,93.4 L1460.0,93.7 L1461.4,93.2 L1462.7,93.0 L1463.9,92.7 L1465.2,92.5 L1466.4,92.4 L1467.7,92.1 L1469.0,91.7 L1470.3,91.3 L1471.5,90.9 L1472.8,90.6 L1474.1,90.4 L1475.3,90.5 L1476.6,90.3 L1477.9,89.8 L1479.2,89.3 L1480.5,89.0 L1481.8,88.5 L1483.1,88.1 L1484.4,87.9 L1485.7,88.3 L1487.0,88.4 L1488.3,88.6 L1489.7,88.4 L1491.0,88.2 L1492.2,88.1 L1493.5,87.7 L1494.7,87.5 L1495.9,87.3 L1497.3,86.9 L1498.7,86.3 L1500.0,86.1 L1501.2,85.9 L1502.5,85.7 L1503.7,85.5 L1504.9,85.0 L1506.2,84.2 L1507.5,83.6 L1508.8,83.3 L1510.1,83.1 L1511.5,83.1 L1512.8,83.0 L1514.0,82.6 L1515.2,82.2 L1516.4,81.8 L1517.8,81.4 L1519.2,81.6 L1520.5,81.9 L1521.7,82.0 L1522.9,81.4 L1524.1,80.7 L1525.4,80.1 L1526.6,79.7 L1527.8,79.3 L1529.1,79.0 L1530.5,78.6 L1531.7,78.3 L1532.9,78.1 L1534.2,78.0 L1535.6,77.6 L1536.9,77.3 L1538.3,77.0 L1539.5,76.7 L1540.9,76.3 L1542.2,75.9 L1543.5,75.6 L1544.8,75.5 L1546.0,75.1 L1547.2,74.5 L1548.6,73.8 L1549.9,73.2 L1551.1,72.5 L1552.3,71.9 L1553.6,71.7 L1554.7,72.2 L1555.7,73.2 L1556.8,74.1 L1557.9,74.8 L1558.9,75.1 L1560.0,75.3 L1560.9,75.0 L1561.9,74.1 L1562.8,72.9 L1563.7,71.5 L1564.7,70.1 L1565.6,69.2 L1566.4,68.8 L1567.3,69.3 L1568.2,70.1 L1569.0,71.4 L1569.8,72.7 L1570.7,73.9 L1571.5,74.6 L1572.5,74.4 L1573.5,73.2 L1574.5,72.1 L1575.6,70.8 L1576.7,69.8 L1577.9,69.2 L1579.2,69.5 L1580.6,70.1 L1581.9,70.5 L1583.1,70.8 L1584.4,71.1 L1585.7,71.9 L1586.9,72.0 L1588.2,71.9 L1589.2,71.4 L1590.2,71.3 L1591.3,70.6 L1592.4,70.0 L1593.5,69.2 L1594.6,68.8 L1595.9,68.1 L1597.2,67.2 L1598.5,66.3 L1599.8,65.6 L1601.0,65.5 L1602.0,66.2 L1602.9,67.3 L1603.8,68.4 L1604.6,69.6 L1605.4,70.4 L1606.2,70.8 L1606.8,70.7 L1607.3,69.7 L1607.8,68.4 L1608.3,67.1 L1608.7,65.8 L1609.2,64.4 L1609.6,63.0 L1610.0,61.8 L1610.4,60.4 L1610.8,59.0 L1611.2,57.5 L1611.6,56.0 L1611.9,54.7 L1612.2,53.6 L1612.6,52.3 L1614.0,51.7 L1615.1,52.6" fill="none" stroke="#0a0ad6" stroke-width="2.60" stroke-linejoin="round" stroke-linecap="round"/>
</g>
<rect x="91.0" y="16.0" width="708.6" height="521.0" fill="none" stroke="#000" stroke-width="2.2"/>
<rect x="905.6" y="14.8" width="710.3" height="522.9" fill="none" stroke="#000" stroke-width="2.2"/>
<path d="M91.0,537.0 H85.0 M91.0,506.4 H80.0 M91.0,475.7 H85.0 M91.0,445.1 H80.0 M91.0,414.4 H85.0 M91.0,383.8 H80.0 M91.0,353.1 H85.0 M91.0,322.5 H80.0 M91.0,291.8 H85.0 M91.0,261.2 H80.0 M91.0,230.5 H85.0 M91.0,199.9 H80.0 M91.0,169.2 H85.0 M91.0,138.6 H80.0 M91.0,107.9 H85.0 M91.0,77.3 H80.0 M91.0,46.6 H85.0 M91.0,16.0 H80.0 M112.5,537.0 V543.8 M927.1,537.7 V544.5 M166.2,537.0 V548.5 M980.9,537.7 V549.2 M219.8,537.0 V543.8 M1034.7,537.7 V544.5 M273.5,537.0 V548.5 M1088.6,537.7 V549.2 M327.2,537.0 V543.8 M1142.4,537.7 V544.5 M380.9,537.0 V548.5 M1196.2,537.7 V549.2 M434.6,537.0 V543.8 M1250.0,537.7 V544.5 M488.2,537.0 V548.5 M1303.8,537.7 V549.2 M541.9,537.0 V543.8 M1357.6,537.7 V544.5 M595.6,537.0 V548.5 M1411.4,537.7 V549.2 M649.3,537.0 V543.8 M1465.2,537.7 V544.5 M703.0,537.0 V548.5 M1519.0,537.7 V549.2 M756.7,537.0 V543.8 M1572.9,537.7 V544.5" stroke="#000" stroke-width="2.2" fill="none"/>
<g font-family="Liberation Sans, Arial, sans-serif" font-size="21.5" fill="#000" stroke="#000" stroke-width="0.3"><text x="73.2" y="512.0" text-anchor="end">30</text><text x="73.2" y="450.7" text-anchor="end">40</text><text x="73.2" y="389.4" text-anchor="end">50</text><text x="73.2" y="328.1" text-anchor="end">60</text><text x="73.2" y="266.8" text-anchor="end">70</text><text x="73.2" y="205.5" text-anchor="end">80</text><text x="73.2" y="144.2" text-anchor="end">90</text><text x="73.2" y="82.9" text-anchor="end">100</text><text x="73.2" y="21.6" text-anchor="end">110</text><text x="166.2" y="571.0" text-anchor="middle">100</text><text x="980.9" y="572.0" text-anchor="middle">100</text><text x="273.5" y="571.0" text-anchor="middle">200</text><text x="1088.6" y="572.0" text-anchor="middle">200</text><text x="380.9" y="571.0" text-anchor="middle">300</text><text x="1196.2" y="572.0" text-anchor="middle">300</text><text x="488.2" y="571.0" text-anchor="middle">400</text><text x="1303.8" y="572.0" text-anchor="middle">400</text><text x="595.6" y="571.0" text-anchor="middle">500</text><text x="1411.4" y="572.0" text-anchor="middle">500</text><text x="703.0" y="571.0" text-anchor="middle">600</text><text x="1519.0" y="572.0" text-anchor="middle">600</text></g>
<g font-family="Liberation Sans, Arial, sans-serif" font-size="26" fill="#000" stroke="#000" stroke-width="0.3">
<text x="343.5" y="612.2">Temperature / <tspan font-size="15" dy="-14.7">o</tspan><tspan dy="14.7">C</tspan></text>
<text x="1176.5" y="612.7">Temperature / <tspan font-size="15" dy="-14.7">o</tspan><tspan dy="14.7">C</tspan></text>
<text transform="translate(24.5,339) rotate(-90)">Weight %</text>
<text transform="translate(877,359) rotate(-90)" letter-spacing="0.25">DTG / (%/ <tspan font-size="15" dy="-14.7">o</tspan><tspan dy="14.7">C)</tspan></text>
</g>
<g font-family="Liberation Sans, Arial, sans-serif" font-size="25" fill="#000">
<text x="808.8" y="42.5"><tspan font-weight="bold" font-size="24.5">a</tspan><tspan dx="2">)</tspan></text>
<text x="1621.6" y="40.2"><tspan font-weight="bold" font-size="23">b</tspan><tspan dx="1.6">)</tspan></text>
</g>
<path d="M377.7,161.2 L428.7,161.2" stroke="#1a1a1a" stroke-width="1.6"/><path d="M440.2,161.2 L426.7,164.8 L426.7,157.6 Z" fill="#000"/>
<path d="M372.6,205.4 L245.1,205.4" stroke="#1a1a1a" stroke-width="1.6"/><path d="M233.6,205.4 L247.1,201.8 L247.1,209.0 Z" fill="#000"/>
<path d="M446.4,219.1 L527.6,219.1" stroke="#1a1a1a" stroke-width="1.6"/><path d="M539.1,219.1 L525.6,222.7 L525.6,215.5 Z" fill="#000"/>
<path d="M457.4,395.8 L380.8,395.8" stroke="#1a1a1a" stroke-width="1.6"/><path d="M369.3,395.8 L382.8,392.2 L382.8,399.4 Z" fill="#000"/>
<path d="M1162.5,210.2 L1085.7,210.2" stroke="#1a1a1a" stroke-width="1.6"/><path d="M1074.2,210.2 L1087.7,206.6 L1087.7,213.8 Z" fill="#000"/>
<path d="M1215.8,319.5 L1308.4,319.5" stroke="#1a1a1a" stroke-width="1.6"/><path d="M1319.9,319.5 L1306.4,323.1 L1306.4,315.9 Z" fill="#000"/>
<path d="M1259.6,463.7 L1291.7,463.7" stroke="#1a1a1a" stroke-width="1.6"/><path d="M1303.2,463.7 L1289.7,467.3 L1289.7,460.1 Z" fill="#000"/>
<path d="M1389.1,132.6 L1422.5,175.7" stroke="#1a1a1a" stroke-width="1.6"/><path d="M1430.5,186.0 L1418.5,176.4 L1424.2,171.9 Z" fill="#000"/>
<g font-family="Liberation Sans, Arial, sans-serif" font-size="25" font-weight="bold" fill="#000">
<text x="442.5" y="172.9">Uncoated</text>
<text x="184.6" y="214.8">F1E</text>
<text x="544.9" y="231.9">PFA</text>
<text x="322.1" y="407.2">PU</text>
<text x="1018.4" y="218.6">F1E</text>
<text x="1326.3" y="328.9">Uncoated</text>
<text x="1307.5" y="473.2">PU</text>
<text x="1434" y="200.9">PFA</text>
</g>
</svg>
</body></html>
